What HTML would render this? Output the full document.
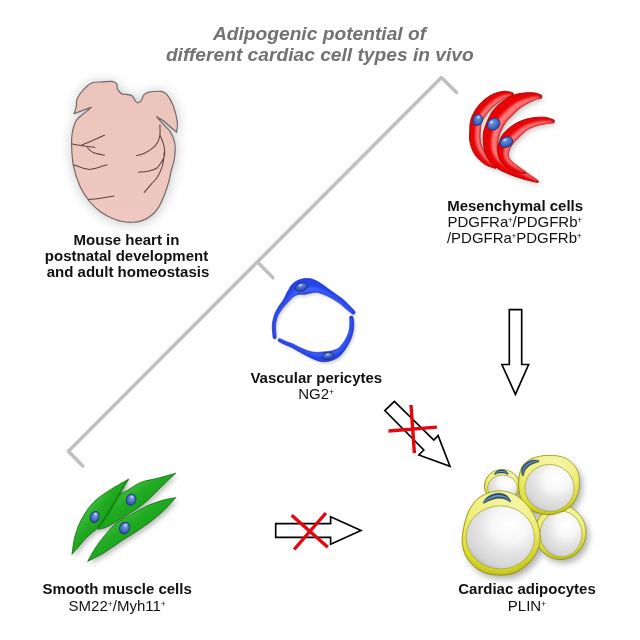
<!DOCTYPE html>
<html><head><meta charset="utf-8"><style>
html,body{margin:0;padding:0;background:#fff;width:640px;height:640px;overflow:hidden}
svg{display:block}
#wrap{width:640px;height:640px;filter:blur(0.35px)}
text{font-family:"Liberation Sans",sans-serif}
.t{font-weight:bold;font-style:italic;font-size:19.2px;fill:#727272}
.b{font-weight:bold;font-size:15px;fill:#111}
.r{font-size:15px;fill:#111}
.s{font-size:8.5px}
</style></head><body>
<div id="wrap"><svg width="640" height="640" viewBox="0 0 640 640">
<defs>
<filter id="sh" x="-30%" y="-30%" width="160%" height="160%"><feGaussianBlur stdDeviation="3"/></filter>
<filter id="hsh" x="-30%" y="-30%" width="160%" height="160%"><feGaussianBlur stdDeviation="6.5"/></filter>
<filter id="hb" x="-30%" y="-30%" width="160%" height="160%"><feGaussianBlur stdDeviation="0.8"/></filter>
<filter id="psh" x="-30%" y="-30%" width="160%" height="160%"><feGaussianBlur stdDeviation="1.6"/></filter>
<filter id="csh" x="-30%" y="-30%" width="160%" height="160%"><feGaussianBlur stdDeviation="2.5"/></filter>
<filter id="ash" x="-30%" y="-30%" width="160%" height="160%"><feGaussianBlur stdDeviation="3"/></filter>
<radialGradient id="nuc" cx="0.5" cy="0.35" r="0.65"><stop offset="0" stop-color="#7098e0"/><stop offset="0.7" stop-color="#3f66c0"/><stop offset="1" stop-color="#2c4a9c"/></radialGradient>
<radialGradient id="nucb" cx="0.5" cy="0.35" r="0.65"><stop offset="0" stop-color="#6e92e0"/><stop offset="0.7" stop-color="#3452c0"/><stop offset="1" stop-color="#24409c"/></radialGradient>
<radialGradient id="nucg" cx="0.5" cy="0.35" r="0.65"><stop offset="0" stop-color="#80a4e4"/><stop offset="0.7" stop-color="#4468bc"/><stop offset="1" stop-color="#2c4a98"/></radialGradient>
<linearGradient id="redg" x1="0" y1="0" x2="1" y2="0"><stop offset="0" stop-color="#e00010"/><stop offset="0.5" stop-color="#f21c24"/><stop offset="1" stop-color="#e8101a"/></linearGradient>
<linearGradient id="blueg" x1="0" y1="0" x2="0" y2="1"><stop offset="0" stop-color="#2848f0"/><stop offset="1" stop-color="#2040e4"/></linearGradient>
<linearGradient id="greeng" x1="0" y1="0" x2="1" y2="1"><stop offset="0.2" stop-color="#52d052"/><stop offset="0.45" stop-color="#22aa22"/><stop offset="0.65" stop-color="#1a9e1a"/><stop offset="0.9" stop-color="#0e820e"/></linearGradient>
<radialGradient id="yelg" cx="0.45" cy="0.38" r="0.68"><stop offset="0.5" stop-color="#f0f07c"/><stop offset="0.74" stop-color="#e6e632"/><stop offset="0.9" stop-color="#c6c61a"/><stop offset="1" stop-color="#8e8e0a"/></radialGradient>
<radialGradient id="grayg" cx="0.64" cy="0.3" r="0.8"><stop offset="0" stop-color="#ffffff"/><stop offset="0.33" stop-color="#f7f7f7"/><stop offset="0.55" stop-color="#e5e5e5"/><stop offset="0.84" stop-color="#d5d5d5"/><stop offset="1" stop-color="#a9a9a9"/></radialGradient>
<linearGradient id="yov" x1="0.9" y1="0.05" x2="0.1" y2="0.95"><stop offset="0" stop-color="#ffffff" stop-opacity="0.45"/><stop offset="0.5" stop-color="#ffffff" stop-opacity="0.05"/><stop offset="1" stop-color="#404000" stop-opacity="0.06"/></linearGradient>
<linearGradient id="hg" x1="0" y1="0" x2="0" y2="1"><stop offset="0" stop-color="#ebc4bb"/><stop offset="1" stop-color="#efc9c1"/></linearGradient>
</defs>
<rect width="640" height="640" fill="#fff"/>

<!-- title -->
<text class="t" x="319.5" y="40.2" text-anchor="middle">Adipogenic potential of</text>
<text class="t" x="319.8" y="61.2" text-anchor="middle">different cardiac cell types in vivo</text>

<!-- bracket -->
<g fill="none" stroke="#bfbfbf" stroke-width="3.5" stroke-linecap="round" stroke-linejoin="round">
<path d="M82.8 466 L68.4 451.2 L441.4 77.6 L456.6 92.6"/>
<path d="M257.6 262.2 L273 277.8"/>
</g>

<!-- HEART -->

<g filter="url(#hsh)" opacity="0.5"><path d="M73.90 113.75 C74.29 112.66 75.70 109.70 76.25 107.20 C76.80 104.70 75.95 101.72 77.20 98.75 C78.45 95.78 81.25 92.06 83.75 89.40 C86.25 86.74 89.08 84.05 92.20 82.80 C95.33 81.55 99.22 82.13 102.50 81.90 C105.78 81.67 109.58 81.15 111.90 81.40 C114.22 81.65 115.52 82.55 116.40 83.40 C117.28 84.25 117.00 85.50 117.20 86.50 C117.40 87.50 116.87 88.20 117.60 89.40 C118.33 90.60 120.20 92.87 121.60 93.70 C123.00 94.53 124.22 94.03 126.00 94.40 C127.78 94.77 130.77 94.87 132.30 95.90 C133.83 96.93 134.32 99.45 135.20 100.60 C136.08 101.75 136.59 102.80 137.60 102.80 C138.61 102.80 140.25 101.85 141.25 100.60 C142.25 99.35 142.47 96.67 143.60 95.30 C144.72 93.93 145.10 93.05 148.00 92.40 C150.90 91.75 157.90 91.10 161.00 91.40 C164.10 91.70 164.60 91.90 166.60 94.20 C168.60 96.50 171.22 100.63 173.00 105.20 C174.78 109.77 176.70 117.08 177.30 121.60 C177.90 126.12 176.72 130.52 176.60 132.30 C175.83 131.63 174.10 130.13 172.00 128.30 C169.90 126.47 166.57 123.25 164.00 121.30 C161.43 119.35 157.83 117.38 156.60 116.60 C157.25 117.37 159.10 119.60 160.50 121.20 C161.90 122.80 163.43 124.50 165.00 126.20 C166.57 127.90 168.42 129.17 169.90 131.40 C171.38 133.63 173.02 136.92 173.90 139.60 C174.78 142.28 175.15 144.10 175.20 147.50 C175.25 150.90 174.85 156.25 174.20 160.00 C173.55 163.75 172.18 166.46 171.30 170.00 C170.42 173.54 170.00 177.27 168.90 181.25 C167.80 185.23 166.35 189.68 164.70 193.90 C163.05 198.12 161.12 203.08 159.00 206.60 C156.88 210.12 154.80 212.67 152.00 215.00 C149.20 217.33 145.48 219.38 142.20 220.60 C138.92 221.82 135.82 222.18 132.30 222.30 C128.78 222.42 125.08 222.28 121.10 221.30 C117.12 220.32 112.00 218.12 108.40 216.40 C104.80 214.68 102.67 213.53 99.50 211.00 C96.33 208.47 92.65 205.38 89.40 201.25 C86.15 197.12 82.67 192.19 80.00 186.25 C77.33 180.31 74.80 172.47 73.40 165.60 C72.00 158.72 71.78 150.52 71.60 145.00 C71.42 139.48 71.68 136.30 72.30 132.50 C72.92 128.70 74.18 124.70 75.30 122.20 C76.42 119.70 77.12 119.30 79.00 117.50 C80.88 115.70 84.56 113.12 86.60 111.40 C88.64 109.68 90.47 107.90 91.25 107.20 C90.00 107.67 86.64 108.91 83.75 110.00 C80.86 111.09 75.54 113.12 73.90 113.75 Z" fill="#80848c" transform="translate(0.5,1)"/></g>
<path d="M73.90 113.75 C74.29 112.66 75.70 109.70 76.25 107.20 C76.80 104.70 75.95 101.72 77.20 98.75 C78.45 95.78 81.25 92.06 83.75 89.40 C86.25 86.74 89.08 84.05 92.20 82.80 C95.33 81.55 99.22 82.13 102.50 81.90 C105.78 81.67 109.58 81.15 111.90 81.40 C114.22 81.65 115.52 82.55 116.40 83.40 C117.28 84.25 117.00 85.50 117.20 86.50 C117.40 87.50 116.87 88.20 117.60 89.40 C118.33 90.60 120.20 92.87 121.60 93.70 C123.00 94.53 124.22 94.03 126.00 94.40 C127.78 94.77 130.77 94.87 132.30 95.90 C133.83 96.93 134.32 99.45 135.20 100.60 C136.08 101.75 136.59 102.80 137.60 102.80 C138.61 102.80 140.25 101.85 141.25 100.60 C142.25 99.35 142.47 96.67 143.60 95.30 C144.72 93.93 145.10 93.05 148.00 92.40 C150.90 91.75 157.90 91.10 161.00 91.40 C164.10 91.70 164.60 91.90 166.60 94.20 C168.60 96.50 171.22 100.63 173.00 105.20 C174.78 109.77 176.70 117.08 177.30 121.60 C177.90 126.12 176.72 130.52 176.60 132.30 C175.83 131.63 174.10 130.13 172.00 128.30 C169.90 126.47 166.57 123.25 164.00 121.30 C161.43 119.35 157.83 117.38 156.60 116.60 C157.25 117.37 159.10 119.60 160.50 121.20 C161.90 122.80 163.43 124.50 165.00 126.20 C166.57 127.90 168.42 129.17 169.90 131.40 C171.38 133.63 173.02 136.92 173.90 139.60 C174.78 142.28 175.15 144.10 175.20 147.50 C175.25 150.90 174.85 156.25 174.20 160.00 C173.55 163.75 172.18 166.46 171.30 170.00 C170.42 173.54 170.00 177.27 168.90 181.25 C167.80 185.23 166.35 189.68 164.70 193.90 C163.05 198.12 161.12 203.08 159.00 206.60 C156.88 210.12 154.80 212.67 152.00 215.00 C149.20 217.33 145.48 219.38 142.20 220.60 C138.92 221.82 135.82 222.18 132.30 222.30 C128.78 222.42 125.08 222.28 121.10 221.30 C117.12 220.32 112.00 218.12 108.40 216.40 C104.80 214.68 102.67 213.53 99.50 211.00 C96.33 208.47 92.65 205.38 89.40 201.25 C86.15 197.12 82.67 192.19 80.00 186.25 C77.33 180.31 74.80 172.47 73.40 165.60 C72.00 158.72 71.78 150.52 71.60 145.00 C71.42 139.48 71.68 136.30 72.30 132.50 C72.92 128.70 74.18 124.70 75.30 122.20 C76.42 119.70 77.12 119.30 79.00 117.50 C80.88 115.70 84.56 113.12 86.60 111.40 C88.64 109.68 90.47 107.90 91.25 107.20 C90.00 107.67 86.64 108.91 83.75 110.00 C80.86 111.09 75.54 113.12 73.90 113.75 Z" fill="url(#hg)" stroke="#746664" stroke-width="1.15" stroke-linejoin="round"/>
<path d="M72.50 144.00 C74.38 144.33 80.00 145.46 83.75 146.00 C87.50 146.54 93.12 147.04 95.00 147.25 M81.90 145.00 C83.77 144.22 89.35 141.93 93.10 140.30 C96.85 138.68 102.52 136.09 104.40 135.25 M87.50 147.80 C88.43 148.58 90.28 151.25 93.10 152.50 C95.92 153.75 102.52 154.83 104.40 155.30 M73.40 164.70 C76.07 165.48 83.77 169.40 89.40 169.40 C95.03 169.40 104.23 165.48 107.20 164.70 M88.40 199.40 C90.12 199.23 94.48 198.97 98.75 198.40 C103.02 197.83 111.46 196.40 114.00 196.00 M159.90 125.00 C159.90 126.67 160.30 132.08 159.90 135.00 C159.50 137.92 158.72 140.30 157.50 142.50 C156.28 144.70 154.77 146.42 152.60 148.20 C150.43 149.98 147.17 151.97 144.50 153.20 C141.83 154.43 137.92 155.20 136.60 155.60 M159.90 135.00 C160.57 136.77 163.12 142.28 163.90 145.60 C164.68 148.92 165.00 152.17 164.60 154.90 C164.20 157.63 162.83 159.78 161.50 162.00 C160.17 164.22 158.85 166.67 156.60 168.20 C154.35 169.73 151.00 170.53 148.00 171.20 C145.00 171.87 140.17 172.03 138.60 172.20 M164.30 152.00 C164.12 153.75 163.82 159.35 163.20 162.50 C162.58 165.65 161.72 168.28 160.60 170.90 C159.48 173.52 158.05 176.00 156.50 178.20 C154.95 180.40 153.33 181.75 151.30 184.10 C149.27 186.45 145.47 190.93 144.30 192.30" fill="none" stroke="#5a4240" stroke-width="1.05" stroke-linecap="round"/>



<g filter="url(#csh)" opacity="0.38" transform="translate(2,2.5)"><path d="M511.23 92.30 L510.92 92.24 L510.54 92.15 L510.06 92.04 L509.50 91.91 L508.86 91.78 L508.17 91.64 L507.42 91.52 L506.62 91.42 L505.79 91.34 L504.91 91.31 L504.00 91.33 L503.10 91.42 L502.24 91.54 L501.39 91.67 L500.53 91.83 L499.64 92.02 L498.74 92.24 L497.84 92.48 L496.92 92.75 L496.01 93.05 L495.09 93.38 L494.18 93.73 L493.28 94.12 L492.39 94.53 L491.51 94.98 L490.64 95.45 L489.76 95.96 L488.90 96.49 L488.04 97.04 L487.20 97.61 L486.37 98.20 L485.55 98.82 L484.75 99.44 L483.97 100.08 L483.21 100.73 L482.47 101.39 L481.76 102.07 L481.06 102.78 L480.37 103.49 L479.71 104.23 L479.07 104.97 L478.45 105.73 L477.85 106.49 L477.27 107.27 L476.71 108.05 L476.17 108.83 L475.65 109.62 L475.15 110.41 L474.68 111.19 L474.22 111.98 L473.78 112.79 L473.36 113.60 L472.95 114.42 L472.57 115.26 L472.20 116.10 L471.86 116.96 L471.54 117.82 L471.24 118.70 L470.96 119.59 L470.71 120.51 L470.48 121.46 L470.30 122.41 L470.15 123.35 L470.05 124.26 L469.97 125.15 L469.91 126.02 L469.87 126.87 L469.84 127.69 L469.82 128.48 L469.80 129.25 L469.78 129.99 L469.76 130.71 L469.72 131.45 L469.68 132.20 L469.64 132.97 L469.60 133.76 L469.56 134.57 L469.53 135.39 L469.52 136.24 L469.52 137.10 L469.54 137.98 L469.60 138.88 L469.68 139.79 L469.80 140.71 L469.94 141.60 L470.11 142.48 L470.30 143.37 L470.51 144.25 L470.75 145.13 L471.00 146.00 L471.27 146.87 L471.56 147.72 L471.87 148.57 L472.20 149.40 L472.55 150.21 L472.92 151.01 L473.32 151.79 L473.73 152.56 L474.16 153.29 L474.61 154.00 L475.06 154.68 L475.53 155.34 L476.01 155.97 L476.50 156.58 L476.99 157.17 L477.49 157.74 L477.99 158.29 L478.51 158.84 L479.04 159.39 L479.60 159.94 L480.17 160.49 L480.76 161.02 L481.35 161.54 L481.96 162.04 L482.58 162.53 L483.20 163.00 L483.84 163.46 L484.49 163.90 L485.14 164.32 L485.82 164.74 L486.55 165.15 L487.33 165.53 L488.13 165.89 L488.94 166.22 L489.75 166.53 L490.54 166.81 L491.30 167.07 L492.01 167.31 L492.66 167.52 L493.23 167.70 L493.70 167.85 L494.07 167.99 A1.75 1.75 0 0 0 495.93 165.01 L495.93 165.01 L495.62 164.72 L495.23 164.35 L494.78 163.94 L494.29 163.47 L493.76 162.97 L493.21 162.44 L492.65 161.89 L492.09 161.33 L491.55 160.78 L491.05 160.24 L490.59 159.74 L490.18 159.26 L489.78 158.79 L489.36 158.29 L488.95 157.80 L488.54 157.29 L488.13 156.78 L487.73 156.27 L487.33 155.76 L486.95 155.24 L486.57 154.72 L486.20 154.21 L485.84 153.69 L485.49 153.16 L485.14 152.63 L484.79 152.09 L484.45 151.57 L484.13 151.05 L483.82 150.54 L483.53 150.04 L483.25 149.54 L482.99 149.04 L482.74 148.53 L482.50 148.03 L482.29 147.52 L482.08 146.99 L481.88 146.43 L481.67 145.83 L481.48 145.21 L481.29 144.57 L481.11 143.92 L480.94 143.25 L480.78 142.57 L480.63 141.90 L480.50 141.23 L480.39 140.56 L480.28 139.91 L480.20 139.29 L480.14 138.71 L480.09 138.12 L480.06 137.52 L480.04 136.90 L480.03 136.26 L480.03 135.61 L480.04 134.93 L480.07 134.24 L480.10 133.53 L480.14 132.80 L480.19 132.05 L480.24 131.29 L480.29 130.51 L480.35 129.74 L480.40 129.00 L480.45 128.28 L480.52 127.58 L480.59 126.91 L480.67 126.27 L480.77 125.66 L480.88 125.08 L481.00 124.53 L481.14 124.01 L481.29 123.49 L481.48 122.95 L481.69 122.39 L481.93 121.83 L482.18 121.26 L482.45 120.69 L482.75 120.12 L483.06 119.54 L483.38 118.96 L483.73 118.37 L484.09 117.78 L484.46 117.19 L484.85 116.59 L485.25 116.00 L485.66 115.41 L486.09 114.82 L486.54 114.23 L487.01 113.64 L487.48 113.05 L487.97 112.46 L488.47 111.88 L488.98 111.30 L489.49 110.73 L490.01 110.16 L490.53 109.61 L491.06 109.04 L491.62 108.47 L492.19 107.90 L492.78 107.33 L493.38 106.75 L493.99 106.19 L494.60 105.63 L495.21 105.08 L495.82 104.55 L496.43 104.04 L497.02 103.54 L497.61 103.07 L498.19 102.60 L498.80 102.14 L499.42 101.68 L500.04 101.22 L500.68 100.78 L501.31 100.34 L501.95 99.92 L502.57 99.53 L503.19 99.15 L503.79 98.79 L504.37 98.47 L504.90 98.18 L505.38 97.93 L505.89 97.70 L506.44 97.49 L507.03 97.29 L507.64 97.12 L508.26 96.96 L508.86 96.81 L509.45 96.69 L510.00 96.58 L510.51 96.48 L510.99 96.39 L511.37 96.30 A2.00 2.00 0 0 0 511.23 92.30 Z" fill="#777"/><path d="M539.93 94.60 L539.73 94.52 L539.50 94.41 L539.20 94.27 L538.84 94.12 L538.41 93.94 L537.94 93.77 L537.42 93.59 L536.84 93.41 L536.22 93.25 L535.55 93.11 L534.84 93.00 L534.11 92.92 L533.40 92.86 L532.68 92.80 L531.92 92.76 L531.12 92.72 L530.30 92.70 L529.44 92.70 L528.56 92.70 L527.65 92.73 L526.72 92.78 L525.78 92.84 L524.82 92.93 L523.88 93.05 L522.94 93.16 L521.98 93.29 L520.98 93.44 L519.96 93.60 L518.91 93.79 L517.84 94.00 L516.76 94.24 L515.67 94.51 L514.58 94.81 L513.49 95.15 L512.41 95.53 L511.33 95.96 L510.29 96.43 L509.28 96.93 L508.31 97.45 L507.38 97.98 L506.49 98.53 L505.63 99.09 L504.81 99.66 L504.02 100.23 L503.26 100.79 L502.53 101.35 L501.83 101.90 L501.14 102.46 L500.44 103.04 L499.72 103.66 L499.00 104.30 L498.28 104.97 L497.56 105.66 L496.85 106.38 L496.14 107.12 L495.44 107.88 L494.74 108.66 L494.06 109.47 L493.39 110.30 L492.73 111.16 L492.10 112.04 L491.51 112.92 L490.96 113.80 L490.45 114.67 L489.97 115.53 L489.52 116.38 L489.11 117.21 L488.72 118.03 L488.35 118.82 L488.00 119.59 L487.66 120.34 L487.34 121.08 L487.01 121.83 L486.68 122.59 L486.35 123.37 L486.02 124.15 L485.70 124.96 L485.38 125.78 L485.08 126.61 L484.79 127.47 L484.52 128.34 L484.27 129.24 L484.04 130.15 L483.84 131.07 L483.67 131.99 L483.52 132.89 L483.41 133.80 L483.31 134.72 L483.24 135.63 L483.19 136.54 L483.15 137.45 L483.14 138.36 L483.14 139.27 L483.16 140.17 L483.20 141.07 L483.25 141.95 L483.31 142.80 L483.39 143.66 L483.48 144.53 L483.59 145.42 L483.71 146.32 L483.85 147.23 L484.02 148.15 L484.21 149.08 L484.43 150.01 L484.67 150.95 L484.95 151.89 L485.26 152.82 L485.59 153.72 L485.94 154.59 L486.31 155.46 L486.71 156.31 L487.13 157.15 L487.57 157.98 L488.03 158.80 L488.52 159.60 L489.03 160.38 L489.56 161.14 L490.12 161.88 L490.70 162.60 L491.32 163.31 L491.96 163.98 L492.61 164.62 L493.28 165.24 L493.96 165.82 L494.65 166.37 L495.35 166.90 L496.06 167.41 L496.78 167.90 L497.50 168.37 L498.23 168.83 L498.97 169.29 L499.75 169.75 L500.55 170.20 L501.35 170.63 L502.17 171.05 L502.99 171.45 L503.82 171.84 L504.66 172.22 L505.52 172.60 L506.38 172.96 L507.26 173.33 L508.15 173.70 L509.08 174.07 L510.05 174.46 L511.04 174.85 L512.04 175.23 L513.04 175.61 L514.06 175.98 L515.08 176.35 L516.11 176.72 L517.16 177.07 L518.22 177.42 L519.30 177.77 L520.39 178.11 L521.51 178.44 L522.73 178.79 L524.07 179.16 L525.51 179.54 L527.01 179.92 L528.53 180.31 L530.04 180.68 L531.51 181.05 L532.91 181.39 L534.20 181.70 L535.35 181.98 L536.32 182.22 L537.09 182.41 A1.00 1.00 0 0 0 537.91 180.59 L537.91 180.59 L537.26 180.14 L536.44 179.57 L535.47 178.89 L534.38 178.13 L533.20 177.31 L531.96 176.44 L530.67 175.55 L529.36 174.67 L528.07 173.81 L526.81 172.99 L525.61 172.23 L524.49 171.56 L523.41 170.95 L522.34 170.39 L521.29 169.86 L520.25 169.37 L519.23 168.90 L518.23 168.46 L517.27 168.03 L516.33 167.61 L515.42 167.20 L514.55 166.78 L513.72 166.37 L512.92 165.93 L512.12 165.48 L511.34 165.03 L510.58 164.58 L509.86 164.14 L509.16 163.71 L508.49 163.28 L507.85 162.86 L507.24 162.43 L506.65 162.01 L506.09 161.58 L505.55 161.15 L505.03 160.71 L504.50 160.25 L503.99 159.79 L503.50 159.34 L503.05 158.89 L502.62 158.44 L502.22 158.00 L501.85 157.57 L501.50 157.14 L501.17 156.70 L500.86 156.27 L500.57 155.84 L500.30 155.40 L500.02 154.93 L499.75 154.45 L499.48 153.95 L499.23 153.44 L498.98 152.92 L498.75 152.39 L498.53 151.86 L498.33 151.32 L498.15 150.78 L497.99 150.23 L497.85 149.70 L497.74 149.18 L497.66 148.68 L497.60 148.17 L497.55 147.63 L497.52 147.07 L497.51 146.49 L497.51 145.90 L497.52 145.28 L497.55 144.65 L497.58 144.01 L497.63 143.36 L497.69 142.70 L497.75 142.05 L497.82 141.43 L497.91 140.82 L498.01 140.21 L498.13 139.60 L498.25 138.99 L498.39 138.38 L498.53 137.79 L498.69 137.19 L498.85 136.61 L499.02 136.04 L499.19 135.47 L499.36 134.93 L499.54 134.41 L499.72 133.89 L499.91 133.37 L500.12 132.84 L500.34 132.29 L500.57 131.74 L500.81 131.17 L501.07 130.59 L501.35 129.99 L501.63 129.38 L501.94 128.76 L502.26 128.12 L502.60 127.46 L502.94 126.81 L503.27 126.18 L503.60 125.57 L503.93 124.98 L504.26 124.41 L504.59 123.86 L504.92 123.33 L505.26 122.83 L505.59 122.35 L505.93 121.89 L506.27 121.44 L506.64 120.98 L507.05 120.51 L507.50 120.02 L507.98 119.52 L508.48 119.00 L509.01 118.47 L509.56 117.94 L510.13 117.39 L510.70 116.84 L511.28 116.28 L511.87 115.72 L512.46 115.14 L513.06 114.55 L513.64 113.96 L514.20 113.39 L514.74 112.84 L515.26 112.31 L515.77 111.79 L516.26 111.30 L516.75 110.82 L517.22 110.35 L517.70 109.90 L518.18 109.47 L518.67 109.04 L519.19 108.61 L519.78 108.16 L520.41 107.69 L521.10 107.21 L521.81 106.73 L522.56 106.25 L523.32 105.77 L524.10 105.30 L524.87 104.84 L525.64 104.39 L526.40 103.96 L527.12 103.55 L527.80 103.17 L528.48 102.81 L529.16 102.45 L529.85 102.11 L530.53 101.77 L531.21 101.45 L531.88 101.15 L532.54 100.86 L533.17 100.59 L533.78 100.33 L534.36 100.09 L534.89 99.88 L535.34 99.69 L535.76 99.52 L536.20 99.36 L536.63 99.22 L537.06 99.10 L537.48 99.00 L537.89 98.90 L538.29 98.82 L538.67 98.76 L539.03 98.70 L539.38 98.65 L539.67 98.60 A2.00 2.00 0 0 0 539.93 94.60 Z" fill="#777"/><path d="M552.79 119.56 L552.46 119.45 L552.06 119.30 L551.58 119.12 L551.02 118.91 L550.40 118.69 L549.72 118.46 L549.00 118.22 L548.24 118.00 L547.45 117.79 L546.62 117.61 L545.77 117.46 L544.93 117.35 L544.10 117.28 L543.27 117.23 L542.41 117.19 L541.53 117.18 L540.63 117.18 L539.72 117.20 L538.79 117.24 L537.85 117.29 L536.91 117.36 L535.97 117.44 L535.03 117.54 L534.10 117.65 L533.19 117.76 L532.29 117.89 L531.37 118.04 L530.44 118.20 L529.50 118.38 L528.55 118.57 L527.59 118.79 L526.63 119.03 L525.65 119.30 L524.68 119.60 L523.69 119.92 L522.72 120.27 L521.75 120.65 L520.80 121.03 L519.85 121.44 L518.92 121.87 L517.99 122.31 L517.08 122.78 L516.17 123.26 L515.28 123.76 L514.40 124.29 L513.54 124.84 L512.69 125.40 L511.87 125.98 L511.06 126.58 L510.23 127.20 L509.40 127.86 L508.55 128.55 L507.70 129.28 L506.85 130.05 L506.01 130.85 L505.18 131.69 L504.37 132.56 L503.59 133.49 L502.85 134.45 L502.15 135.46 L501.52 136.48 L500.96 137.51 L500.46 138.56 L500.01 139.61 L499.61 140.67 L499.26 141.72 L498.95 142.77 L498.68 143.82 L498.45 144.85 L498.25 145.87 L498.09 146.87 L497.96 147.86 L497.87 148.86 L497.82 149.87 L497.81 150.85 L497.84 151.83 L497.92 152.79 L498.04 153.73 L498.19 154.66 L498.38 155.57 L498.61 156.46 L498.87 157.32 L499.16 158.17 L499.50 159.01 L499.89 159.86 L500.32 160.68 L500.80 161.46 L501.30 162.19 L501.82 162.87 L502.36 163.51 L502.91 164.12 L503.47 164.69 L504.03 165.23 L504.60 165.74 L505.17 166.23 L505.75 166.71 L506.38 167.20 L507.03 167.69 L507.69 168.15 L508.35 168.59 L509.03 169.00 L509.70 169.39 L510.39 169.77 L511.08 170.12 L511.78 170.45 L512.49 170.77 L513.21 171.07 L513.95 171.36 L514.78 171.65 L515.69 171.93 L516.63 172.19 L517.61 172.43 L518.59 172.65 L519.55 172.86 L520.49 173.05 L521.38 173.23 L522.19 173.38 L522.91 173.52 L523.52 173.64 L523.99 173.74 A1.25 1.25 0 0 0 525.01 171.46 L525.01 171.46 L524.60 171.17 L524.08 170.80 L523.48 170.37 L522.81 169.89 L522.08 169.37 L521.32 168.83 L520.54 168.26 L519.76 167.70 L519.01 167.14 L518.29 166.60 L517.64 166.10 L517.05 165.64 L516.47 165.20 L515.89 164.77 L515.32 164.36 L514.77 163.95 L514.24 163.56 L513.73 163.18 L513.25 162.80 L512.79 162.43 L512.37 162.05 L511.97 161.68 L511.60 161.30 L511.25 160.89 L510.88 160.45 L510.52 160.00 L510.17 159.55 L509.86 159.11 L509.57 158.68 L509.32 158.26 L509.10 157.85 L508.91 157.46 L508.76 157.08 L508.64 156.71 L508.56 156.35 L508.50 155.99 L508.46 155.58 L508.42 155.13 L508.41 154.66 L508.41 154.18 L508.44 153.69 L508.49 153.19 L508.56 152.69 L508.65 152.18 L508.77 151.67 L508.90 151.16 L509.06 150.65 L509.24 150.14 L509.45 149.59 L509.69 149.00 L509.97 148.40 L510.28 147.79 L510.61 147.17 L510.96 146.55 L511.32 145.94 L511.70 145.34 L512.09 144.75 L512.48 144.19 L512.87 143.65 L513.25 143.14 L513.64 142.65 L514.07 142.13 L514.55 141.58 L515.08 141.00 L515.64 140.40 L516.24 139.79 L516.86 139.17 L517.50 138.53 L518.16 137.90 L518.82 137.27 L519.48 136.63 L520.13 136.02 L520.75 135.42 L521.36 134.83 L521.95 134.26 L522.54 133.69 L523.13 133.13 L523.71 132.59 L524.29 132.06 L524.88 131.55 L525.47 131.06 L526.07 130.59 L526.67 130.14 L527.28 129.73 L527.90 129.34 L528.54 128.97 L529.21 128.61 L529.89 128.27 L530.60 127.94 L531.33 127.63 L532.07 127.32 L532.82 127.03 L533.58 126.75 L534.35 126.48 L535.13 126.21 L535.90 125.95 L536.66 125.71 L537.42 125.49 L538.20 125.27 L538.99 125.08 L539.79 124.89 L540.58 124.71 L541.38 124.55 L542.16 124.39 L542.92 124.25 L543.67 124.11 L544.40 123.97 L545.07 123.85 L545.71 123.73 L546.37 123.62 L547.05 123.53 L547.74 123.44 L548.44 123.36 L549.13 123.29 L549.79 123.24 L550.42 123.18 L551.01 123.14 L551.54 123.10 L552.02 123.07 L552.41 123.04 A1.75 1.75 0 0 0 552.79 119.56 Z" fill="#777"/></g>
<path d="M511.23 92.30 L510.92 92.24 L510.54 92.15 L510.06 92.04 L509.50 91.91 L508.86 91.78 L508.17 91.64 L507.42 91.52 L506.62 91.42 L505.79 91.34 L504.91 91.31 L504.00 91.33 L503.10 91.42 L502.24 91.54 L501.39 91.67 L500.53 91.83 L499.64 92.02 L498.74 92.24 L497.84 92.48 L496.92 92.75 L496.01 93.05 L495.09 93.38 L494.18 93.73 L493.28 94.12 L492.39 94.53 L491.51 94.98 L490.64 95.45 L489.76 95.96 L488.90 96.49 L488.04 97.04 L487.20 97.61 L486.37 98.20 L485.55 98.82 L484.75 99.44 L483.97 100.08 L483.21 100.73 L482.47 101.39 L481.76 102.07 L481.06 102.78 L480.37 103.49 L479.71 104.23 L479.07 104.97 L478.45 105.73 L477.85 106.49 L477.27 107.27 L476.71 108.05 L476.17 108.83 L475.65 109.62 L475.15 110.41 L474.68 111.19 L474.22 111.98 L473.78 112.79 L473.36 113.60 L472.95 114.42 L472.57 115.26 L472.20 116.10 L471.86 116.96 L471.54 117.82 L471.24 118.70 L470.96 119.59 L470.71 120.51 L470.48 121.46 L470.30 122.41 L470.15 123.35 L470.05 124.26 L469.97 125.15 L469.91 126.02 L469.87 126.87 L469.84 127.69 L469.82 128.48 L469.80 129.25 L469.78 129.99 L469.76 130.71 L469.72 131.45 L469.68 132.20 L469.64 132.97 L469.60 133.76 L469.56 134.57 L469.53 135.39 L469.52 136.24 L469.52 137.10 L469.54 137.98 L469.60 138.88 L469.68 139.79 L469.80 140.71 L469.94 141.60 L470.11 142.48 L470.30 143.37 L470.51 144.25 L470.75 145.13 L471.00 146.00 L471.27 146.87 L471.56 147.72 L471.87 148.57 L472.20 149.40 L472.55 150.21 L472.92 151.01 L473.32 151.79 L473.73 152.56 L474.16 153.29 L474.61 154.00 L475.06 154.68 L475.53 155.34 L476.01 155.97 L476.50 156.58 L476.99 157.17 L477.49 157.74 L477.99 158.29 L478.51 158.84 L479.04 159.39 L479.60 159.94 L480.17 160.49 L480.76 161.02 L481.35 161.54 L481.96 162.04 L482.58 162.53 L483.20 163.00 L483.84 163.46 L484.49 163.90 L485.14 164.32 L485.82 164.74 L486.55 165.15 L487.33 165.53 L488.13 165.89 L488.94 166.22 L489.75 166.53 L490.54 166.81 L491.30 167.07 L492.01 167.31 L492.66 167.52 L493.23 167.70 L493.70 167.85 L494.07 167.99 A1.75 1.75 0 0 0 495.93 165.01 L495.93 165.01 L495.62 164.72 L495.23 164.35 L494.78 163.94 L494.29 163.47 L493.76 162.97 L493.21 162.44 L492.65 161.89 L492.09 161.33 L491.55 160.78 L491.05 160.24 L490.59 159.74 L490.18 159.26 L489.78 158.79 L489.36 158.29 L488.95 157.80 L488.54 157.29 L488.13 156.78 L487.73 156.27 L487.33 155.76 L486.95 155.24 L486.57 154.72 L486.20 154.21 L485.84 153.69 L485.49 153.16 L485.14 152.63 L484.79 152.09 L484.45 151.57 L484.13 151.05 L483.82 150.54 L483.53 150.04 L483.25 149.54 L482.99 149.04 L482.74 148.53 L482.50 148.03 L482.29 147.52 L482.08 146.99 L481.88 146.43 L481.67 145.83 L481.48 145.21 L481.29 144.57 L481.11 143.92 L480.94 143.25 L480.78 142.57 L480.63 141.90 L480.50 141.23 L480.39 140.56 L480.28 139.91 L480.20 139.29 L480.14 138.71 L480.09 138.12 L480.06 137.52 L480.04 136.90 L480.03 136.26 L480.03 135.61 L480.04 134.93 L480.07 134.24 L480.10 133.53 L480.14 132.80 L480.19 132.05 L480.24 131.29 L480.29 130.51 L480.35 129.74 L480.40 129.00 L480.45 128.28 L480.52 127.58 L480.59 126.91 L480.67 126.27 L480.77 125.66 L480.88 125.08 L481.00 124.53 L481.14 124.01 L481.29 123.49 L481.48 122.95 L481.69 122.39 L481.93 121.83 L482.18 121.26 L482.45 120.69 L482.75 120.12 L483.06 119.54 L483.38 118.96 L483.73 118.37 L484.09 117.78 L484.46 117.19 L484.85 116.59 L485.25 116.00 L485.66 115.41 L486.09 114.82 L486.54 114.23 L487.01 113.64 L487.48 113.05 L487.97 112.46 L488.47 111.88 L488.98 111.30 L489.49 110.73 L490.01 110.16 L490.53 109.61 L491.06 109.04 L491.62 108.47 L492.19 107.90 L492.78 107.33 L493.38 106.75 L493.99 106.19 L494.60 105.63 L495.21 105.08 L495.82 104.55 L496.43 104.04 L497.02 103.54 L497.61 103.07 L498.19 102.60 L498.80 102.14 L499.42 101.68 L500.04 101.22 L500.68 100.78 L501.31 100.34 L501.95 99.92 L502.57 99.53 L503.19 99.15 L503.79 98.79 L504.37 98.47 L504.90 98.18 L505.38 97.93 L505.89 97.70 L506.44 97.49 L507.03 97.29 L507.64 97.12 L508.26 96.96 L508.86 96.81 L509.45 96.69 L510.00 96.58 L510.51 96.48 L510.99 96.39 L511.37 96.30 A2.00 2.00 0 0 0 511.23 92.30 Z" fill="#ea0306" stroke="#9c0000" stroke-width="1"/>
<path d="M511.31 94.54 L510.96 94.56 L510.52 94.57 L510.02 94.58 L509.47 94.59 L508.86 94.60 L508.22 94.62 L507.55 94.65 L506.85 94.71 L506.16 94.79 L505.46 94.89 L504.77 95.03 L504.11 95.21 L503.44 95.42 L502.74 95.66 L502.02 95.93 L501.28 96.22 L500.54 96.54 L499.78 96.88 L499.03 97.25 L498.27 97.63 L497.51 98.03 L496.77 98.44 L496.03 98.87 L495.31 99.31 L494.60 99.77 L493.88 100.26 L493.16 100.77 L492.43 101.30 L491.71 101.85 L491.00 102.41 L490.30 102.99 L489.60 103.58 L488.92 104.18 L488.25 104.78 L487.61 105.39 L486.98 105.99 L486.38 106.60 L485.78 107.23 L485.19 107.87 L484.62 108.51 L484.06 109.17 L483.51 109.83 L482.98 110.49 L482.46 111.17 L481.97 111.84 L481.48 112.52 L481.02 113.19 L480.58 113.87 L480.16 114.55 L479.75 115.23 L479.35 115.91 L478.97 116.60 L478.61 117.29 L478.27 117.98 L477.94 118.67 L477.64 119.37 L477.35 120.07 L477.09 120.77 L476.85 121.47 L476.64 122.18 L476.45 122.89 L476.29 123.60 L476.16 124.32 L476.05 125.05 L475.96 125.78 L475.89 126.52 L475.83 127.27 L475.78 128.02 L475.74 128.77 L475.71 129.52 L475.67 130.28 L475.63 131.03 L475.59 131.79 L475.54 132.54 L475.50 133.28 L475.46 134.03 L475.43 134.77 L475.41 135.51 L475.40 136.25 L475.41 136.99 L475.43 137.72 L475.47 138.45 L475.54 139.18 L475.62 139.91 L475.73 140.66 L475.87 141.41 L476.01 142.17 L476.18 142.93 L476.37 143.70 L476.57 144.46 L476.78 145.21 L477.01 145.96 L477.25 146.69 L477.51 147.40 L477.77 148.09 L478.05 148.76 L478.34 149.40 L478.64 150.02 L478.96 150.63 L479.30 151.22 L479.65 151.80 L480.01 152.37 L480.39 152.93 L480.77 153.48 L481.17 154.03 L481.58 154.58 L482.00 155.12 L482.42 155.66 L482.85 156.20 L483.30 156.73 L483.75 157.26 L484.22 157.78 L484.70 158.30 L485.19 158.81 L485.69 159.31 L486.19 159.81 L486.70 160.29 L487.22 160.76 L487.74 161.22 L488.26 161.67 L488.81 162.12 L489.41 162.57 L490.05 163.03 L490.71 163.48 L491.37 163.93 L492.04 164.36 L492.68 164.77 L493.28 165.16 L493.85 165.51 L494.35 165.83 L494.77 166.10 L495.11 166.32 L495.85 165.13 L495.54 164.85 L495.15 164.49 L494.69 164.08 L494.20 163.62 L493.66 163.13 L493.10 162.61 L492.53 162.07 L491.97 161.53 L491.42 160.99 L490.90 160.46 L490.43 159.95 L490.01 159.48 L489.59 159.01 L489.17 158.52 L488.74 158.02 L488.32 157.52 L487.91 157.01 L487.50 156.50 L487.09 155.99 L486.70 155.47 L486.31 154.96 L485.94 154.44 L485.57 153.92 L485.21 153.39 L484.85 152.85 L484.50 152.32 L484.16 151.79 L483.83 151.27 L483.51 150.76 L483.21 150.25 L482.92 149.74 L482.65 149.23 L482.39 148.73 L482.15 148.21 L481.93 147.69 L481.71 147.15 L481.50 146.58 L481.29 145.98 L481.09 145.35 L480.90 144.70 L480.71 144.03 L480.54 143.36 L480.38 142.68 L480.23 141.99 L480.09 141.31 L479.97 140.64 L479.87 139.98 L479.79 139.35 L479.72 138.75 L479.67 138.15 L479.64 137.54 L479.62 136.91 L479.61 136.26 L479.61 135.60 L479.62 134.92 L479.65 134.22 L479.68 133.51 L479.72 132.78 L479.77 132.03 L479.82 131.26 L479.87 130.49 L479.92 129.72 L479.97 128.98 L480.03 128.25 L480.09 127.55 L480.16 126.88 L480.25 126.23 L480.34 125.61 L480.45 125.01 L480.57 124.44 L480.71 123.90 L480.87 123.37 L481.06 122.82 L481.27 122.25 L481.51 121.67 L481.77 121.09 L482.04 120.51 L482.34 119.92 L482.65 119.34 L482.98 118.74 L483.33 118.15 L483.69 117.55 L484.07 116.95 L484.46 116.34 L484.86 115.75 L485.28 115.15 L485.72 114.55 L486.17 113.95 L486.64 113.35 L487.12 112.75 L487.62 112.16 L488.12 111.57 L488.63 110.99 L489.15 110.41 L489.68 109.84 L490.20 109.28 L490.75 108.71 L491.31 108.14 L491.90 107.56 L492.49 106.99 L493.10 106.41 L493.72 105.85 L494.34 105.29 L494.96 104.74 L495.58 104.21 L496.20 103.69 L496.80 103.20 L497.40 102.72 L498.00 102.26 L498.61 101.80 L499.24 101.35 L499.88 100.89 L500.53 100.45 L501.17 100.03 L501.82 99.62 L502.46 99.23 L503.08 98.86 L503.70 98.51 L504.29 98.19 L504.83 97.91 L505.32 97.67 L505.85 97.45 L506.42 97.24 L507.02 97.06 L507.64 96.89 L508.25 96.74 L508.86 96.61 L509.45 96.50 L510.00 96.40 L510.51 96.30 L510.99 96.22 L511.37 96.14 Z" fill="#ff8c8c" opacity="0.85" filter="url(#hb)"/>
<g transform="translate(477.7,119.9) rotate(18)"><ellipse rx="4.6" ry="5.7" fill="url(#nuc)" stroke="#22357a" stroke-width="0.9"/><ellipse cx="-0.23" cy="-2.85" rx="1.38" ry="1.14" fill="#d8e6ff" opacity="0.8"/></g>
<path d="M539.93 94.60 L539.73 94.52 L539.50 94.41 L539.20 94.27 L538.84 94.12 L538.41 93.94 L537.94 93.77 L537.42 93.59 L536.84 93.41 L536.22 93.25 L535.55 93.11 L534.84 93.00 L534.11 92.92 L533.40 92.86 L532.68 92.80 L531.92 92.76 L531.12 92.72 L530.30 92.70 L529.44 92.70 L528.56 92.70 L527.65 92.73 L526.72 92.78 L525.78 92.84 L524.82 92.93 L523.88 93.05 L522.94 93.16 L521.98 93.29 L520.98 93.44 L519.96 93.60 L518.91 93.79 L517.84 94.00 L516.76 94.24 L515.67 94.51 L514.58 94.81 L513.49 95.15 L512.41 95.53 L511.33 95.96 L510.29 96.43 L509.28 96.93 L508.31 97.45 L507.38 97.98 L506.49 98.53 L505.63 99.09 L504.81 99.66 L504.02 100.23 L503.26 100.79 L502.53 101.35 L501.83 101.90 L501.14 102.46 L500.44 103.04 L499.72 103.66 L499.00 104.30 L498.28 104.97 L497.56 105.66 L496.85 106.38 L496.14 107.12 L495.44 107.88 L494.74 108.66 L494.06 109.47 L493.39 110.30 L492.73 111.16 L492.10 112.04 L491.51 112.92 L490.96 113.80 L490.45 114.67 L489.97 115.53 L489.52 116.38 L489.11 117.21 L488.72 118.03 L488.35 118.82 L488.00 119.59 L487.66 120.34 L487.34 121.08 L487.01 121.83 L486.68 122.59 L486.35 123.37 L486.02 124.15 L485.70 124.96 L485.38 125.78 L485.08 126.61 L484.79 127.47 L484.52 128.34 L484.27 129.24 L484.04 130.15 L483.84 131.07 L483.67 131.99 L483.52 132.89 L483.41 133.80 L483.31 134.72 L483.24 135.63 L483.19 136.54 L483.15 137.45 L483.14 138.36 L483.14 139.27 L483.16 140.17 L483.20 141.07 L483.25 141.95 L483.31 142.80 L483.39 143.66 L483.48 144.53 L483.59 145.42 L483.71 146.32 L483.85 147.23 L484.02 148.15 L484.21 149.08 L484.43 150.01 L484.67 150.95 L484.95 151.89 L485.26 152.82 L485.59 153.72 L485.94 154.59 L486.31 155.46 L486.71 156.31 L487.13 157.15 L487.57 157.98 L488.03 158.80 L488.52 159.60 L489.03 160.38 L489.56 161.14 L490.12 161.88 L490.70 162.60 L491.32 163.31 L491.96 163.98 L492.61 164.62 L493.28 165.24 L493.96 165.82 L494.65 166.37 L495.35 166.90 L496.06 167.41 L496.78 167.90 L497.50 168.37 L498.23 168.83 L498.97 169.29 L499.75 169.75 L500.55 170.20 L501.35 170.63 L502.17 171.05 L502.99 171.45 L503.82 171.84 L504.66 172.22 L505.52 172.60 L506.38 172.96 L507.26 173.33 L508.15 173.70 L509.08 174.07 L510.05 174.46 L511.04 174.85 L512.04 175.23 L513.04 175.61 L514.06 175.98 L515.08 176.35 L516.11 176.72 L517.16 177.07 L518.22 177.42 L519.30 177.77 L520.39 178.11 L521.51 178.44 L522.73 178.79 L524.07 179.16 L525.51 179.54 L527.01 179.92 L528.53 180.31 L530.04 180.68 L531.51 181.05 L532.91 181.39 L534.20 181.70 L535.35 181.98 L536.32 182.22 L537.09 182.41 A1.00 1.00 0 0 0 537.91 180.59 L537.91 180.59 L537.26 180.14 L536.44 179.57 L535.47 178.89 L534.38 178.13 L533.20 177.31 L531.96 176.44 L530.67 175.55 L529.36 174.67 L528.07 173.81 L526.81 172.99 L525.61 172.23 L524.49 171.56 L523.41 170.95 L522.34 170.39 L521.29 169.86 L520.25 169.37 L519.23 168.90 L518.23 168.46 L517.27 168.03 L516.33 167.61 L515.42 167.20 L514.55 166.78 L513.72 166.37 L512.92 165.93 L512.12 165.48 L511.34 165.03 L510.58 164.58 L509.86 164.14 L509.16 163.71 L508.49 163.28 L507.85 162.86 L507.24 162.43 L506.65 162.01 L506.09 161.58 L505.55 161.15 L505.03 160.71 L504.50 160.25 L503.99 159.79 L503.50 159.34 L503.05 158.89 L502.62 158.44 L502.22 158.00 L501.85 157.57 L501.50 157.14 L501.17 156.70 L500.86 156.27 L500.57 155.84 L500.30 155.40 L500.02 154.93 L499.75 154.45 L499.48 153.95 L499.23 153.44 L498.98 152.92 L498.75 152.39 L498.53 151.86 L498.33 151.32 L498.15 150.78 L497.99 150.23 L497.85 149.70 L497.74 149.18 L497.66 148.68 L497.60 148.17 L497.55 147.63 L497.52 147.07 L497.51 146.49 L497.51 145.90 L497.52 145.28 L497.55 144.65 L497.58 144.01 L497.63 143.36 L497.69 142.70 L497.75 142.05 L497.82 141.43 L497.91 140.82 L498.01 140.21 L498.13 139.60 L498.25 138.99 L498.39 138.38 L498.53 137.79 L498.69 137.19 L498.85 136.61 L499.02 136.04 L499.19 135.47 L499.36 134.93 L499.54 134.41 L499.72 133.89 L499.91 133.37 L500.12 132.84 L500.34 132.29 L500.57 131.74 L500.81 131.17 L501.07 130.59 L501.35 129.99 L501.63 129.38 L501.94 128.76 L502.26 128.12 L502.60 127.46 L502.94 126.81 L503.27 126.18 L503.60 125.57 L503.93 124.98 L504.26 124.41 L504.59 123.86 L504.92 123.33 L505.26 122.83 L505.59 122.35 L505.93 121.89 L506.27 121.44 L506.64 120.98 L507.05 120.51 L507.50 120.02 L507.98 119.52 L508.48 119.00 L509.01 118.47 L509.56 117.94 L510.13 117.39 L510.70 116.84 L511.28 116.28 L511.87 115.72 L512.46 115.14 L513.06 114.55 L513.64 113.96 L514.20 113.39 L514.74 112.84 L515.26 112.31 L515.77 111.79 L516.26 111.30 L516.75 110.82 L517.22 110.35 L517.70 109.90 L518.18 109.47 L518.67 109.04 L519.19 108.61 L519.78 108.16 L520.41 107.69 L521.10 107.21 L521.81 106.73 L522.56 106.25 L523.32 105.77 L524.10 105.30 L524.87 104.84 L525.64 104.39 L526.40 103.96 L527.12 103.55 L527.80 103.17 L528.48 102.81 L529.16 102.45 L529.85 102.11 L530.53 101.77 L531.21 101.45 L531.88 101.15 L532.54 100.86 L533.17 100.59 L533.78 100.33 L534.36 100.09 L534.89 99.88 L535.34 99.69 L535.76 99.52 L536.20 99.36 L536.63 99.22 L537.06 99.10 L537.48 99.00 L537.89 98.90 L538.29 98.82 L538.67 98.76 L539.03 98.70 L539.38 98.65 L539.67 98.60 A2.00 2.00 0 0 0 539.93 94.60 Z" fill="#ea0306" stroke="#9c0000" stroke-width="1"/>
<path d="M539.78 96.84 L539.53 96.83 L539.24 96.81 L538.90 96.78 L538.53 96.75 L538.12 96.72 L537.69 96.70 L537.22 96.68 L536.72 96.67 L536.21 96.67 L535.67 96.70 L535.12 96.75 L534.55 96.82 L533.94 96.91 L533.30 97.02 L532.62 97.14 L531.91 97.28 L531.18 97.43 L530.43 97.60 L529.66 97.78 L528.88 97.98 L528.09 98.19 L527.29 98.42 L526.49 98.67 L525.69 98.93 L524.88 99.21 L524.03 99.51 L523.16 99.82 L522.27 100.15 L521.38 100.50 L520.48 100.86 L519.59 101.23 L518.71 101.62 L517.85 102.02 L517.01 102.43 L516.21 102.85 L515.44 103.28 L514.71 103.73 L514.00 104.19 L513.30 104.67 L512.62 105.17 L511.96 105.68 L511.31 106.21 L510.66 106.74 L510.02 107.29 L509.39 107.85 L508.75 108.41 L508.12 108.98 L507.48 109.56 L506.84 110.14 L506.19 110.73 L505.55 111.32 L504.91 111.93 L504.28 112.54 L503.66 113.15 L503.05 113.77 L502.46 114.39 L501.89 115.02 L501.34 115.65 L500.81 116.28 L500.31 116.92 L499.84 117.55 L499.39 118.20 L498.96 118.86 L498.55 119.52 L498.16 120.20 L497.78 120.88 L497.41 121.56 L497.05 122.25 L496.70 122.94 L496.36 123.63 L496.03 124.33 L495.70 125.02 L495.37 125.71 L495.05 126.39 L494.75 127.08 L494.45 127.76 L494.16 128.44 L493.89 129.11 L493.62 129.79 L493.38 130.47 L493.14 131.16 L492.92 131.84 L492.72 132.53 L492.53 133.23 L492.36 133.94 L492.20 134.65 L492.05 135.38 L491.92 136.10 L491.80 136.84 L491.70 137.57 L491.61 138.31 L491.53 139.05 L491.47 139.79 L491.42 140.53 L491.39 141.27 L491.37 142.01 L491.36 142.75 L491.36 143.49 L491.38 144.24 L491.40 144.99 L491.44 145.74 L491.50 146.48 L491.57 147.22 L491.67 147.95 L491.78 148.68 L491.91 149.39 L492.07 150.09 L492.25 150.78 L492.46 151.47 L492.69 152.15 L492.94 152.84 L493.22 153.52 L493.51 154.19 L493.83 154.85 L494.16 155.51 L494.51 156.15 L494.88 156.78 L495.27 157.39 L495.66 157.99 L496.08 158.57 L496.50 159.13 L496.94 159.66 L497.40 160.19 L497.88 160.70 L498.38 161.20 L498.89 161.69 L499.42 162.16 L499.97 162.64 L500.54 163.10 L501.13 163.57 L501.74 164.03 L502.36 164.49 L503.00 164.94 L503.65 165.37 L504.32 165.80 L505.01 166.22 L505.71 166.64 L506.44 167.05 L507.18 167.46 L507.95 167.86 L508.73 168.27 L509.54 168.68 L510.37 169.09 L511.23 169.51 L512.11 169.93 L513.01 170.33 L513.93 170.73 L514.88 171.13 L515.85 171.53 L516.85 171.93 L517.86 172.34 L518.89 172.76 L519.94 173.19 L521.00 173.64 L522.08 174.10 L523.18 174.59 L524.34 175.12 L525.60 175.70 L526.94 176.33 L528.33 176.98 L529.73 177.65 L531.11 178.31 L532.46 178.95 L533.74 179.56 L534.91 180.13 L535.96 180.63 L536.85 181.06 L537.55 181.39 L537.88 180.66 L537.22 180.23 L536.39 179.67 L535.42 179.01 L534.33 178.26 L533.14 177.46 L531.88 176.61 L530.58 175.74 L529.27 174.88 L527.97 174.03 L526.70 173.23 L525.49 172.49 L524.37 171.83 L523.29 171.24 L522.22 170.69 L521.16 170.17 L520.12 169.68 L519.10 169.22 L518.11 168.78 L517.14 168.35 L516.20 167.93 L515.29 167.52 L514.41 167.11 L513.58 166.69 L512.77 166.26 L511.96 165.81 L511.17 165.36 L510.41 164.92 L509.68 164.48 L508.98 164.05 L508.30 163.63 L507.66 163.20 L507.04 162.78 L506.44 162.35 L505.87 161.93 L505.32 161.50 L504.78 161.05 L504.25 160.60 L503.73 160.13 L503.23 159.68 L502.77 159.23 L502.33 158.78 L501.92 158.34 L501.53 157.90 L501.17 157.46 L500.83 157.02 L500.51 156.58 L500.20 156.14 L499.91 155.68 L499.63 155.21 L499.34 154.72 L499.06 154.21 L498.80 153.69 L498.54 153.16 L498.30 152.62 L498.07 152.07 L497.86 151.52 L497.67 150.96 L497.50 150.41 L497.36 149.86 L497.24 149.32 L497.15 148.81 L497.08 148.28 L497.03 147.73 L496.99 147.15 L496.97 146.56 L496.96 145.95 L496.97 145.32 L496.99 144.68 L497.02 144.03 L497.06 143.37 L497.11 142.71 L497.17 142.05 L497.24 141.42 L497.32 140.79 L497.42 140.17 L497.53 139.55 L497.65 138.93 L497.78 138.31 L497.92 137.70 L498.07 137.10 L498.23 136.50 L498.40 135.91 L498.57 135.33 L498.74 134.77 L498.92 134.24 L499.10 133.71 L499.30 133.17 L499.51 132.62 L499.73 132.06 L499.96 131.50 L500.21 130.92 L500.47 130.33 L500.75 129.73 L501.04 129.11 L501.34 128.48 L501.66 127.84 L502.00 127.18 L502.34 126.52 L502.67 125.88 L503.01 125.26 L503.34 124.67 L503.67 124.09 L504.01 123.53 L504.34 122.99 L504.68 122.47 L505.03 121.97 L505.37 121.49 L505.73 121.03 L506.11 120.56 L506.53 120.07 L506.99 119.57 L507.48 119.05 L507.99 118.52 L508.53 117.99 L509.08 117.45 L509.65 116.90 L510.23 116.34 L510.82 115.78 L511.41 115.21 L512.01 114.63 L512.61 114.04 L513.20 113.46 L513.76 112.89 L514.31 112.34 L514.84 111.80 L515.36 111.29 L515.87 110.79 L516.37 110.30 L516.87 109.84 L517.36 109.38 L517.87 108.95 L518.38 108.52 L518.92 108.09 L519.53 107.64 L520.18 107.17 L520.88 106.70 L521.61 106.23 L522.37 105.76 L523.15 105.29 L523.93 104.83 L524.72 104.38 L525.50 103.95 L526.26 103.53 L526.99 103.13 L527.68 102.76 L528.37 102.41 L529.06 102.06 L529.76 101.73 L530.45 101.41 L531.14 101.10 L531.82 100.81 L532.48 100.54 L533.12 100.28 L533.74 100.03 L534.33 99.81 L534.86 99.60 L535.32 99.42 L535.76 99.26 L536.20 99.12 L536.64 98.99 L537.08 98.88 L537.50 98.79 L537.92 98.71 L538.31 98.64 L538.69 98.58 L539.05 98.53 L539.39 98.48 L539.68 98.44 Z" fill="#ff8c8c" opacity="0.85" filter="url(#hb)"/>
<g transform="translate(493.6,124.1) rotate(-40)"><ellipse rx="6.6" ry="5.6" fill="url(#nuc)" stroke="#22357a" stroke-width="0.9"/><ellipse cx="-0.33" cy="-2.80" rx="1.98" ry="1.12" fill="#d8e6ff" opacity="0.8"/></g>
<path d="M552.79 119.56 L552.46 119.45 L552.06 119.30 L551.58 119.12 L551.02 118.91 L550.40 118.69 L549.72 118.46 L549.00 118.22 L548.24 118.00 L547.45 117.79 L546.62 117.61 L545.77 117.46 L544.93 117.35 L544.10 117.28 L543.27 117.23 L542.41 117.19 L541.53 117.18 L540.63 117.18 L539.72 117.20 L538.79 117.24 L537.85 117.29 L536.91 117.36 L535.97 117.44 L535.03 117.54 L534.10 117.65 L533.19 117.76 L532.29 117.89 L531.37 118.04 L530.44 118.20 L529.50 118.38 L528.55 118.57 L527.59 118.79 L526.63 119.03 L525.65 119.30 L524.68 119.60 L523.69 119.92 L522.72 120.27 L521.75 120.65 L520.80 121.03 L519.85 121.44 L518.92 121.87 L517.99 122.31 L517.08 122.78 L516.17 123.26 L515.28 123.76 L514.40 124.29 L513.54 124.84 L512.69 125.40 L511.87 125.98 L511.06 126.58 L510.23 127.20 L509.40 127.86 L508.55 128.55 L507.70 129.28 L506.85 130.05 L506.01 130.85 L505.18 131.69 L504.37 132.56 L503.59 133.49 L502.85 134.45 L502.15 135.46 L501.52 136.48 L500.96 137.51 L500.46 138.56 L500.01 139.61 L499.61 140.67 L499.26 141.72 L498.95 142.77 L498.68 143.82 L498.45 144.85 L498.25 145.87 L498.09 146.87 L497.96 147.86 L497.87 148.86 L497.82 149.87 L497.81 150.85 L497.84 151.83 L497.92 152.79 L498.04 153.73 L498.19 154.66 L498.38 155.57 L498.61 156.46 L498.87 157.32 L499.16 158.17 L499.50 159.01 L499.89 159.86 L500.32 160.68 L500.80 161.46 L501.30 162.19 L501.82 162.87 L502.36 163.51 L502.91 164.12 L503.47 164.69 L504.03 165.23 L504.60 165.74 L505.17 166.23 L505.75 166.71 L506.38 167.20 L507.03 167.69 L507.69 168.15 L508.35 168.59 L509.03 169.00 L509.70 169.39 L510.39 169.77 L511.08 170.12 L511.78 170.45 L512.49 170.77 L513.21 171.07 L513.95 171.36 L514.78 171.65 L515.69 171.93 L516.63 172.19 L517.61 172.43 L518.59 172.65 L519.55 172.86 L520.49 173.05 L521.38 173.23 L522.19 173.38 L522.91 173.52 L523.52 173.64 L523.99 173.74 A1.25 1.25 0 0 0 525.01 171.46 L525.01 171.46 L524.60 171.17 L524.08 170.80 L523.48 170.37 L522.81 169.89 L522.08 169.37 L521.32 168.83 L520.54 168.26 L519.76 167.70 L519.01 167.14 L518.29 166.60 L517.64 166.10 L517.05 165.64 L516.47 165.20 L515.89 164.77 L515.32 164.36 L514.77 163.95 L514.24 163.56 L513.73 163.18 L513.25 162.80 L512.79 162.43 L512.37 162.05 L511.97 161.68 L511.60 161.30 L511.25 160.89 L510.88 160.45 L510.52 160.00 L510.17 159.55 L509.86 159.11 L509.57 158.68 L509.32 158.26 L509.10 157.85 L508.91 157.46 L508.76 157.08 L508.64 156.71 L508.56 156.35 L508.50 155.99 L508.46 155.58 L508.42 155.13 L508.41 154.66 L508.41 154.18 L508.44 153.69 L508.49 153.19 L508.56 152.69 L508.65 152.18 L508.77 151.67 L508.90 151.16 L509.06 150.65 L509.24 150.14 L509.45 149.59 L509.69 149.00 L509.97 148.40 L510.28 147.79 L510.61 147.17 L510.96 146.55 L511.32 145.94 L511.70 145.34 L512.09 144.75 L512.48 144.19 L512.87 143.65 L513.25 143.14 L513.64 142.65 L514.07 142.13 L514.55 141.58 L515.08 141.00 L515.64 140.40 L516.24 139.79 L516.86 139.17 L517.50 138.53 L518.16 137.90 L518.82 137.27 L519.48 136.63 L520.13 136.02 L520.75 135.42 L521.36 134.83 L521.95 134.26 L522.54 133.69 L523.13 133.13 L523.71 132.59 L524.29 132.06 L524.88 131.55 L525.47 131.06 L526.07 130.59 L526.67 130.14 L527.28 129.73 L527.90 129.34 L528.54 128.97 L529.21 128.61 L529.89 128.27 L530.60 127.94 L531.33 127.63 L532.07 127.32 L532.82 127.03 L533.58 126.75 L534.35 126.48 L535.13 126.21 L535.90 125.95 L536.66 125.71 L537.42 125.49 L538.20 125.27 L538.99 125.08 L539.79 124.89 L540.58 124.71 L541.38 124.55 L542.16 124.39 L542.92 124.25 L543.67 124.11 L544.40 123.97 L545.07 123.85 L545.71 123.73 L546.37 123.62 L547.05 123.53 L547.74 123.44 L548.44 123.36 L549.13 123.29 L549.79 123.24 L550.42 123.18 L551.01 123.14 L551.54 123.10 L552.02 123.07 L552.41 123.04 A1.75 1.75 0 0 0 552.79 119.56 Z" fill="#ea0306" stroke="#9c0000" stroke-width="1"/>
<path d="M552.58 121.51 L552.21 121.48 L551.77 121.43 L551.26 121.37 L550.68 121.30 L550.06 121.23 L549.39 121.17 L548.69 121.10 L547.96 121.04 L547.22 121.00 L546.48 120.98 L545.74 120.97 L545.01 120.99 L544.27 121.03 L543.50 121.08 L542.70 121.14 L541.88 121.22 L541.05 121.31 L540.20 121.41 L539.35 121.52 L538.49 121.65 L537.63 121.79 L536.78 121.95 L535.94 122.11 L535.11 122.30 L534.28 122.49 L533.45 122.70 L532.61 122.92 L531.77 123.14 L530.94 123.39 L530.10 123.64 L529.28 123.92 L528.46 124.21 L527.64 124.51 L526.84 124.84 L526.05 125.19 L525.27 125.57 L524.51 125.96 L523.75 126.38 L523.00 126.83 L522.26 127.29 L521.52 127.77 L520.79 128.27 L520.07 128.79 L519.35 129.32 L518.63 129.87 L517.92 130.43 L517.21 131.01 L516.50 131.60 L515.78 132.21 L515.04 132.84 L514.30 133.48 L513.56 134.14 L512.83 134.82 L512.11 135.50 L511.40 136.20 L510.72 136.90 L510.07 137.61 L509.46 138.33 L508.89 139.04 L508.37 139.76 L507.88 140.49 L507.41 141.25 L506.97 142.03 L506.56 142.82 L506.17 143.62 L505.81 144.43 L505.48 145.24 L505.17 146.04 L504.90 146.84 L504.66 147.62 L504.45 148.39 L504.28 149.14 L504.13 149.86 L504.02 150.59 L503.94 151.31 L503.90 152.02 L503.88 152.73 L503.89 153.43 L503.93 154.12 L504.00 154.79 L504.09 155.45 L504.22 156.09 L504.37 156.72 L504.54 157.32 L504.74 157.90 L504.98 158.46 L505.26 159.00 L505.56 159.54 L505.89 160.06 L506.26 160.57 L506.64 161.07 L507.05 161.57 L507.47 162.05 L507.91 162.52 L508.37 162.99 L508.83 163.45 L509.30 163.90 L509.79 164.32 L510.31 164.74 L510.84 165.14 L511.39 165.53 L511.96 165.91 L512.55 166.29 L513.15 166.67 L513.76 167.04 L514.39 167.41 L515.03 167.78 L515.69 168.16 L516.38 168.54 L517.14 168.95 L517.96 169.36 L518.81 169.78 L519.68 170.19 L520.54 170.60 L521.38 170.99 L522.18 171.36 L522.91 171.70 L523.57 172.00 L524.12 172.26 L524.56 172.46 L524.97 171.55 L524.56 171.27 L524.04 170.91 L523.43 170.49 L522.75 170.02 L522.02 169.52 L521.25 168.99 L520.46 168.44 L519.68 167.89 L518.91 167.34 L518.19 166.81 L517.52 166.32 L516.92 165.87 L516.34 165.44 L515.75 165.01 L515.18 164.60 L514.62 164.20 L514.09 163.81 L513.57 163.43 L513.08 163.05 L512.62 162.67 L512.18 162.30 L511.77 161.92 L511.39 161.53 L511.03 161.12 L510.65 160.68 L510.28 160.23 L509.93 159.78 L509.60 159.34 L509.31 158.90 L509.04 158.47 L508.81 158.06 L508.61 157.65 L508.44 157.25 L508.31 156.87 L508.21 156.49 L508.14 156.11 L508.08 155.68 L508.04 155.21 L508.01 154.73 L508.01 154.24 L508.03 153.73 L508.07 153.21 L508.13 152.69 L508.22 152.16 L508.33 151.63 L508.46 151.11 L508.61 150.58 L508.79 150.05 L508.99 149.48 L509.24 148.88 L509.51 148.26 L509.81 147.63 L510.14 147.00 L510.49 146.36 L510.85 145.73 L511.23 145.11 L511.62 144.51 L512.02 143.92 L512.42 143.36 L512.81 142.83 L513.21 142.32 L513.65 141.79 L514.15 141.22 L514.68 140.63 L515.26 140.02 L515.86 139.40 L516.49 138.77 L517.14 138.14 L517.81 137.50 L518.48 136.86 L519.15 136.23 L519.80 135.62 L520.43 135.02 L521.04 134.43 L521.65 133.86 L522.25 133.29 L522.85 132.74 L523.45 132.19 L524.04 131.67 L524.64 131.16 L525.25 130.67 L525.86 130.21 L526.48 129.76 L527.10 129.35 L527.73 128.96 L528.39 128.59 L529.06 128.24 L529.76 127.90 L530.48 127.58 L531.21 127.26 L531.96 126.97 L532.72 126.68 L533.49 126.40 L534.27 126.13 L535.06 125.87 L535.83 125.62 L536.59 125.38 L537.36 125.16 L538.15 124.96 L538.95 124.76 L539.75 124.58 L540.55 124.41 L541.35 124.25 L542.13 124.10 L542.90 123.96 L543.66 123.83 L544.39 123.71 L545.07 123.59 L545.71 123.48 L546.38 123.38 L547.06 123.30 L547.76 123.22 L548.46 123.16 L549.15 123.10 L549.81 123.05 L550.44 123.01 L551.03 122.98 L551.56 122.95 L552.04 122.93 L552.42 122.90 Z" fill="#ff8c8c" opacity="0.85" filter="url(#hb)"/>
<g transform="translate(506.3,142) rotate(-25)"><ellipse rx="6.6" ry="5" fill="url(#nuc)" stroke="#22357a" stroke-width="0.9"/><ellipse cx="-0.33" cy="-2.50" rx="1.98" ry="1.00" fill="#d8e6ff" opacity="0.8"/></g>


<g filter="url(#psh)" opacity="0.35" transform="translate(1.5,2)"><path d="M276.10 337.09 L276.06 336.52 L276.00 335.80 L275.92 334.96 L275.84 334.04 L275.75 333.03 L275.66 331.98 L275.58 330.90 L275.52 329.81 L275.47 328.74 L275.45 327.71 L275.46 326.76 L275.50 325.89 L275.57 325.06 L275.65 324.23 L275.76 323.41 L275.89 322.60 L276.03 321.81 L276.19 321.02 L276.37 320.25 L276.56 319.49 L276.77 318.74 L277.00 318.00 L277.24 317.28 L277.50 316.57 L277.77 315.90 L278.06 315.24 L278.38 314.60 L278.71 313.96 L279.06 313.34 L279.42 312.73 L279.80 312.11 L280.20 311.51 L280.60 310.90 L281.02 310.30 L281.45 309.70 L281.87 309.10 L282.29 308.53 L282.72 307.98 L283.16 307.43 L283.62 306.88 L284.09 306.34 L284.57 305.79 L285.07 305.24 L285.58 304.68 L286.10 304.12 L286.63 303.56 L287.16 302.98 L287.71 302.39 L288.25 301.79 L288.79 301.18 L289.33 300.57 L289.86 299.97 L290.39 299.38 L290.91 298.81 L291.44 298.27 L291.95 297.76 L292.47 297.29 L292.98 296.87 L293.47 296.50 L293.98 296.17 L294.51 295.85 L295.08 295.55 L295.64 295.28 L296.21 295.04 L296.76 294.84 L297.31 294.67 L297.83 294.54 L298.34 294.43 L298.82 294.35 L299.27 294.29 L299.69 294.25 L300.06 294.23 L300.39 294.24 L300.72 294.26 L301.06 294.28 L301.43 294.30 L301.83 294.31 L302.25 294.32 L302.70 294.32 L303.18 294.31 L303.68 294.29 L304.22 294.26 L304.78 294.20 L305.34 294.13 L305.85 294.06 L306.33 293.97 L306.79 293.88 L307.24 293.79 L307.68 293.69 L308.11 293.59 L308.52 293.48 L308.93 293.37 L309.33 293.27 L309.72 293.17 L310.11 293.07 L310.52 292.98 L310.96 292.89 L311.40 292.80 L311.85 292.69 L312.29 292.59 L312.74 292.48 L313.20 292.39 L313.67 292.30 L314.15 292.23 L314.66 292.18 L315.18 292.16 L315.72 292.16 L316.27 292.19 L316.82 292.25 L317.40 292.34 L318.02 292.46 L318.66 292.61 L319.33 292.79 L320.02 293.00 L320.72 293.22 L321.43 293.47 L322.15 293.73 L322.87 294.00 L323.59 294.28 L324.31 294.56 L325.00 294.85 L325.70 295.14 L326.39 295.45 L327.08 295.77 L327.77 296.10 L328.46 296.44 L329.15 296.78 L329.83 297.14 L330.51 297.50 L331.18 297.87 L331.85 298.24 L332.51 298.61 L333.17 298.99 L333.83 299.38 L334.49 299.78 L335.14 300.18 L335.78 300.59 L336.41 301.00 L337.03 301.41 L337.64 301.82 L338.24 302.23 L338.83 302.64 L339.39 303.05 L339.94 303.46 L340.47 303.86 L340.98 304.27 L341.49 304.68 L341.98 305.11 L342.47 305.54 L342.96 305.97 L343.45 306.41 L343.94 306.86 L344.44 307.31 L344.94 307.76 L345.46 308.21 L345.98 308.66 L346.51 309.10 L347.07 309.57 L347.66 310.04 L348.25 310.53 L348.84 311.01 L349.42 311.48 L349.98 311.93 L350.51 312.35 L350.99 312.74 L351.42 313.09 L351.79 313.39 L352.09 313.63 A1.80 1.80 0 0 0 354.51 310.97 L354.51 310.97 L354.25 310.70 L353.92 310.36 L353.53 309.96 L353.10 309.51 L352.63 309.03 L352.13 308.51 L351.61 307.97 L351.08 307.43 L350.54 306.88 L350.02 306.35 L349.51 305.83 L349.02 305.34 L348.57 304.88 L348.12 304.42 L347.66 303.95 L347.20 303.48 L346.73 303.00 L346.25 302.51 L345.76 302.02 L345.26 301.53 L344.73 301.03 L344.19 300.54 L343.63 300.04 L343.06 299.54 L342.46 299.06 L341.86 298.58 L341.24 298.11 L340.62 297.64 L339.98 297.18 L339.34 296.72 L338.69 296.26 L338.05 295.80 L337.40 295.35 L336.76 294.90 L336.12 294.44 L335.49 293.99 L334.85 293.53 L334.21 293.07 L333.56 292.61 L332.91 292.14 L332.26 291.68 L331.60 291.21 L330.95 290.75 L330.29 290.29 L329.64 289.82 L328.98 289.36 L328.33 288.89 L327.69 288.44 L327.07 287.98 L326.44 287.52 L325.81 287.04 L325.16 286.56 L324.51 286.08 L323.86 285.59 L323.19 285.10 L322.52 284.62 L321.84 284.15 L321.15 283.69 L320.44 283.24 L319.73 282.81 L319.05 282.40 L318.37 282.01 L317.70 281.62 L317.03 281.25 L316.36 280.89 L315.68 280.55 L314.99 280.23 L314.30 279.93 L313.61 279.66 L312.91 279.41 L312.20 279.20 L311.48 279.02 L310.72 278.86 L309.94 278.73 L309.17 278.63 L308.40 278.55 L307.64 278.50 L306.89 278.48 L306.15 278.48 L305.43 278.51 L304.71 278.56 L304.00 278.64 L303.31 278.74 L302.66 278.87 L302.05 279.01 L301.43 279.17 L300.77 279.36 L300.08 279.58 L299.37 279.83 L298.63 280.12 L297.86 280.45 L297.09 280.81 L296.30 281.23 L295.50 281.69 L294.70 282.21 L293.94 282.77 L293.23 283.36 L292.60 283.97 L292.01 284.62 L291.46 285.28 L290.96 285.96 L290.48 286.65 L290.04 287.35 L289.62 288.05 L289.21 288.74 L288.82 289.44 L288.43 290.13 L288.02 290.83 L287.60 291.57 L287.18 292.33 L286.79 293.09 L286.42 293.84 L286.07 294.59 L285.72 295.33 L285.39 296.05 L285.05 296.77 L284.72 297.46 L284.38 298.14 L284.04 298.78 L283.69 299.41 L283.33 300.02 L282.94 300.62 L282.52 301.23 L282.09 301.83 L281.65 302.43 L281.20 303.04 L280.75 303.65 L280.29 304.27 L279.83 304.91 L279.38 305.56 L278.94 306.22 L278.53 306.90 L278.14 307.56 L277.75 308.22 L277.37 308.89 L276.99 309.56 L276.61 310.24 L276.24 310.94 L275.88 311.65 L275.53 312.37 L275.19 313.11 L274.88 313.86 L274.58 314.64 L274.30 315.43 L274.04 316.22 L273.80 317.02 L273.58 317.84 L273.36 318.66 L273.17 319.50 L272.98 320.35 L272.82 321.22 L272.68 322.09 L272.55 322.98 L272.45 323.88 L272.36 324.78 L272.30 325.71 L272.27 326.70 L272.29 327.77 L272.33 328.87 L272.40 330.00 L272.49 331.13 L272.59 332.24 L272.69 333.32 L272.80 334.33 L272.90 335.26 L272.99 336.09 L273.06 336.77 L273.10 337.31 A1.50 1.50 0 0 0 276.10 337.09 Z" fill="#777"/><path d="M278.95 341.55 L279.23 341.69 L279.57 341.86 L279.97 342.07 L280.43 342.30 L280.92 342.55 L281.45 342.82 L282.01 343.10 L282.58 343.38 L283.16 343.66 L283.74 343.94 L284.31 344.21 L284.87 344.47 L285.42 344.71 L285.98 344.95 L286.54 345.17 L287.09 345.40 L287.65 345.61 L288.21 345.83 L288.77 346.05 L289.32 346.28 L289.88 346.51 L290.44 346.75 L291.00 347.01 L291.56 347.28 L292.13 347.58 L292.71 347.89 L293.31 348.22 L293.92 348.57 L294.54 348.94 L295.17 349.31 L295.82 349.69 L296.46 350.07 L297.12 350.46 L297.78 350.84 L298.44 351.22 L299.10 351.59 L299.76 351.95 L300.42 352.31 L301.09 352.67 L301.76 353.03 L302.43 353.40 L303.11 353.76 L303.78 354.12 L304.46 354.47 L305.12 354.82 L305.78 355.16 L306.43 355.50 L307.07 355.82 L307.68 356.13 L308.28 356.44 L308.88 356.74 L309.46 357.04 L310.05 357.33 L310.63 357.62 L311.21 357.90 L311.80 358.18 L312.39 358.45 L312.98 358.71 L313.59 358.96 L314.19 359.21 L314.80 359.45 L315.40 359.69 L316.02 359.93 L316.63 360.17 L317.26 360.40 L317.89 360.62 L318.53 360.83 L319.18 361.02 L319.83 361.19 L320.50 361.34 L321.18 361.46 L321.86 361.55 L322.53 361.61 L323.20 361.64 L323.87 361.66 L324.54 361.65 L325.22 361.62 L325.90 361.57 L326.58 361.50 L327.26 361.41 L327.95 361.30 L328.63 361.16 L329.31 361.01 L329.99 360.85 L330.67 360.66 L331.35 360.45 L332.02 360.21 L332.70 359.96 L333.38 359.69 L334.05 359.40 L334.71 359.10 L335.36 358.78 L336.00 358.44 L336.63 358.09 L337.24 357.73 L337.83 357.36 L338.38 356.97 L338.91 356.58 L339.41 356.18 L339.89 355.76 L340.34 355.33 L340.78 354.89 L341.20 354.44 L341.61 353.98 L342.00 353.52 L342.39 353.05 L342.77 352.57 L343.16 352.08 L343.57 351.56 L343.97 351.02 L344.37 350.47 L344.76 349.91 L345.15 349.34 L345.52 348.77 L345.89 348.19 L346.25 347.62 L346.61 347.04 L346.95 346.47 L347.28 345.91 L347.61 345.35 L347.92 344.79 L348.24 344.24 L348.55 343.68 L348.86 343.12 L349.16 342.55 L349.46 341.98 L349.75 341.40 L350.03 340.81 L350.31 340.21 L350.58 339.61 L350.83 338.99 L351.08 338.37 L351.31 337.74 L351.53 337.10 L351.75 336.46 L351.96 335.81 L352.16 335.15 L352.36 334.48 L352.54 333.80 L352.71 333.12 L352.87 332.44 L353.02 331.75 L353.15 331.05 L353.27 330.35 L353.37 329.63 L353.46 328.89 L353.53 328.14 L353.59 327.39 L353.64 326.64 L353.67 325.90 L353.69 325.17 L353.71 324.47 L353.72 323.79 L353.72 323.15 L353.71 322.55 L353.70 321.99 L353.68 321.43 L353.64 320.89 L353.58 320.38 L353.51 319.90 L353.43 319.45 L353.35 319.03 L353.27 318.65 L353.20 318.31 L353.13 318.00 L353.06 317.75 L353.02 317.55 L352.98 317.37 A1.70 1.70 0 0 0 349.62 317.83 L349.62 317.83 L349.64 318.06 L349.67 318.33 L349.70 318.61 L349.74 318.91 L349.77 319.23 L349.81 319.57 L349.84 319.93 L349.87 320.31 L349.89 320.71 L349.90 321.12 L349.91 321.55 L349.90 322.01 L349.89 322.53 L349.87 323.11 L349.86 323.73 L349.84 324.37 L349.81 325.03 L349.78 325.71 L349.74 326.40 L349.68 327.08 L349.62 327.76 L349.54 328.42 L349.44 329.05 L349.33 329.65 L349.20 330.24 L349.05 330.84 L348.89 331.43 L348.71 332.03 L348.52 332.62 L348.32 333.21 L348.11 333.80 L347.88 334.38 L347.65 334.95 L347.41 335.52 L347.17 336.09 L346.92 336.63 L346.67 337.17 L346.42 337.69 L346.16 338.20 L345.89 338.71 L345.61 339.21 L345.32 339.71 L345.02 340.21 L344.71 340.70 L344.40 341.19 L344.07 341.68 L343.74 342.16 L343.39 342.65 L343.04 343.14 L342.68 343.64 L342.31 344.13 L341.93 344.62 L341.55 345.10 L341.17 345.57 L340.78 346.02 L340.39 346.45 L340.00 346.86 L339.61 347.25 L339.22 347.60 L338.84 347.92 L338.44 348.22 L338.05 348.50 L337.66 348.76 L337.28 348.98 L336.91 349.18 L336.53 349.36 L336.16 349.53 L335.78 349.68 L335.40 349.82 L335.00 349.96 L334.59 350.10 L334.17 350.24 L333.73 350.38 L333.27 350.51 L332.78 350.64 L332.27 350.76 L331.74 350.88 L331.20 351.00 L330.66 351.10 L330.11 351.21 L329.57 351.30 L329.03 351.39 L328.51 351.48 L328.01 351.55 L327.52 351.62 L327.04 351.68 L326.55 351.73 L326.07 351.78 L325.59 351.82 L325.10 351.85 L324.61 351.89 L324.12 351.92 L323.63 351.95 L323.14 351.98 L322.64 352.02 L322.14 352.05 L321.65 352.09 L321.16 352.14 L320.67 352.19 L320.16 352.24 L319.64 352.29 L319.11 352.34 L318.58 352.38 L318.04 352.41 L317.48 352.43 L316.93 352.43 L316.37 352.42 L315.81 352.39 L315.25 352.36 L314.71 352.31 L314.16 352.25 L313.61 352.19 L313.05 352.11 L312.49 352.02 L311.93 351.91 L311.35 351.80 L310.76 351.66 L310.16 351.52 L309.55 351.36 L308.93 351.18 L308.30 350.99 L307.66 350.78 L307.00 350.55 L306.34 350.30 L305.66 350.04 L304.98 349.77 L304.29 349.49 L303.61 349.20 L302.92 348.90 L302.24 348.60 L301.56 348.31 L300.90 348.01 L300.25 347.72 L299.60 347.41 L298.95 347.09 L298.29 346.75 L297.63 346.41 L296.98 346.07 L296.32 345.72 L295.66 345.38 L295.00 345.05 L294.34 344.72 L293.69 344.41 L293.04 344.12 L292.40 343.84 L291.77 343.59 L291.15 343.35 L290.54 343.12 L289.95 342.91 L289.37 342.71 L288.80 342.51 L288.24 342.32 L287.69 342.12 L287.16 341.93 L286.64 341.73 L286.13 341.53 L285.61 341.31 L285.05 341.07 L284.49 340.82 L283.92 340.56 L283.35 340.30 L282.80 340.04 L282.27 339.80 L281.77 339.56 L281.31 339.34 L280.89 339.15 L280.54 338.98 L280.25 338.85 A1.50 1.50 0 0 0 278.95 341.55 Z" fill="#777"/></g>
<path d="M276.10 337.09 L276.06 336.52 L276.00 335.80 L275.92 334.96 L275.84 334.04 L275.75 333.03 L275.66 331.98 L275.58 330.90 L275.52 329.81 L275.47 328.74 L275.45 327.71 L275.46 326.76 L275.50 325.89 L275.57 325.06 L275.65 324.23 L275.76 323.41 L275.89 322.60 L276.03 321.81 L276.19 321.02 L276.37 320.25 L276.56 319.49 L276.77 318.74 L277.00 318.00 L277.24 317.28 L277.50 316.57 L277.77 315.90 L278.06 315.24 L278.38 314.60 L278.71 313.96 L279.06 313.34 L279.42 312.73 L279.80 312.11 L280.20 311.51 L280.60 310.90 L281.02 310.30 L281.45 309.70 L281.87 309.10 L282.29 308.53 L282.72 307.98 L283.16 307.43 L283.62 306.88 L284.09 306.34 L284.57 305.79 L285.07 305.24 L285.58 304.68 L286.10 304.12 L286.63 303.56 L287.16 302.98 L287.71 302.39 L288.25 301.79 L288.79 301.18 L289.33 300.57 L289.86 299.97 L290.39 299.38 L290.91 298.81 L291.44 298.27 L291.95 297.76 L292.47 297.29 L292.98 296.87 L293.47 296.50 L293.98 296.17 L294.51 295.85 L295.08 295.55 L295.64 295.28 L296.21 295.04 L296.76 294.84 L297.31 294.67 L297.83 294.54 L298.34 294.43 L298.82 294.35 L299.27 294.29 L299.69 294.25 L300.06 294.23 L300.39 294.24 L300.72 294.26 L301.06 294.28 L301.43 294.30 L301.83 294.31 L302.25 294.32 L302.70 294.32 L303.18 294.31 L303.68 294.29 L304.22 294.26 L304.78 294.20 L305.34 294.13 L305.85 294.06 L306.33 293.97 L306.79 293.88 L307.24 293.79 L307.68 293.69 L308.11 293.59 L308.52 293.48 L308.93 293.37 L309.33 293.27 L309.72 293.17 L310.11 293.07 L310.52 292.98 L310.96 292.89 L311.40 292.80 L311.85 292.69 L312.29 292.59 L312.74 292.48 L313.20 292.39 L313.67 292.30 L314.15 292.23 L314.66 292.18 L315.18 292.16 L315.72 292.16 L316.27 292.19 L316.82 292.25 L317.40 292.34 L318.02 292.46 L318.66 292.61 L319.33 292.79 L320.02 293.00 L320.72 293.22 L321.43 293.47 L322.15 293.73 L322.87 294.00 L323.59 294.28 L324.31 294.56 L325.00 294.85 L325.70 295.14 L326.39 295.45 L327.08 295.77 L327.77 296.10 L328.46 296.44 L329.15 296.78 L329.83 297.14 L330.51 297.50 L331.18 297.87 L331.85 298.24 L332.51 298.61 L333.17 298.99 L333.83 299.38 L334.49 299.78 L335.14 300.18 L335.78 300.59 L336.41 301.00 L337.03 301.41 L337.64 301.82 L338.24 302.23 L338.83 302.64 L339.39 303.05 L339.94 303.46 L340.47 303.86 L340.98 304.27 L341.49 304.68 L341.98 305.11 L342.47 305.54 L342.96 305.97 L343.45 306.41 L343.94 306.86 L344.44 307.31 L344.94 307.76 L345.46 308.21 L345.98 308.66 L346.51 309.10 L347.07 309.57 L347.66 310.04 L348.25 310.53 L348.84 311.01 L349.42 311.48 L349.98 311.93 L350.51 312.35 L350.99 312.74 L351.42 313.09 L351.79 313.39 L352.09 313.63 A1.80 1.80 0 0 0 354.51 310.97 L354.51 310.97 L354.25 310.70 L353.92 310.36 L353.53 309.96 L353.10 309.51 L352.63 309.03 L352.13 308.51 L351.61 307.97 L351.08 307.43 L350.54 306.88 L350.02 306.35 L349.51 305.83 L349.02 305.34 L348.57 304.88 L348.12 304.42 L347.66 303.95 L347.20 303.48 L346.73 303.00 L346.25 302.51 L345.76 302.02 L345.26 301.53 L344.73 301.03 L344.19 300.54 L343.63 300.04 L343.06 299.54 L342.46 299.06 L341.86 298.58 L341.24 298.11 L340.62 297.64 L339.98 297.18 L339.34 296.72 L338.69 296.26 L338.05 295.80 L337.40 295.35 L336.76 294.90 L336.12 294.44 L335.49 293.99 L334.85 293.53 L334.21 293.07 L333.56 292.61 L332.91 292.14 L332.26 291.68 L331.60 291.21 L330.95 290.75 L330.29 290.29 L329.64 289.82 L328.98 289.36 L328.33 288.89 L327.69 288.44 L327.07 287.98 L326.44 287.52 L325.81 287.04 L325.16 286.56 L324.51 286.08 L323.86 285.59 L323.19 285.10 L322.52 284.62 L321.84 284.15 L321.15 283.69 L320.44 283.24 L319.73 282.81 L319.05 282.40 L318.37 282.01 L317.70 281.62 L317.03 281.25 L316.36 280.89 L315.68 280.55 L314.99 280.23 L314.30 279.93 L313.61 279.66 L312.91 279.41 L312.20 279.20 L311.48 279.02 L310.72 278.86 L309.94 278.73 L309.17 278.63 L308.40 278.55 L307.64 278.50 L306.89 278.48 L306.15 278.48 L305.43 278.51 L304.71 278.56 L304.00 278.64 L303.31 278.74 L302.66 278.87 L302.05 279.01 L301.43 279.17 L300.77 279.36 L300.08 279.58 L299.37 279.83 L298.63 280.12 L297.86 280.45 L297.09 280.81 L296.30 281.23 L295.50 281.69 L294.70 282.21 L293.94 282.77 L293.23 283.36 L292.60 283.97 L292.01 284.62 L291.46 285.28 L290.96 285.96 L290.48 286.65 L290.04 287.35 L289.62 288.05 L289.21 288.74 L288.82 289.44 L288.43 290.13 L288.02 290.83 L287.60 291.57 L287.18 292.33 L286.79 293.09 L286.42 293.84 L286.07 294.59 L285.72 295.33 L285.39 296.05 L285.05 296.77 L284.72 297.46 L284.38 298.14 L284.04 298.78 L283.69 299.41 L283.33 300.02 L282.94 300.62 L282.52 301.23 L282.09 301.83 L281.65 302.43 L281.20 303.04 L280.75 303.65 L280.29 304.27 L279.83 304.91 L279.38 305.56 L278.94 306.22 L278.53 306.90 L278.14 307.56 L277.75 308.22 L277.37 308.89 L276.99 309.56 L276.61 310.24 L276.24 310.94 L275.88 311.65 L275.53 312.37 L275.19 313.11 L274.88 313.86 L274.58 314.64 L274.30 315.43 L274.04 316.22 L273.80 317.02 L273.58 317.84 L273.36 318.66 L273.17 319.50 L272.98 320.35 L272.82 321.22 L272.68 322.09 L272.55 322.98 L272.45 323.88 L272.36 324.78 L272.30 325.71 L272.27 326.70 L272.29 327.77 L272.33 328.87 L272.40 330.00 L272.49 331.13 L272.59 332.24 L272.69 333.32 L272.80 334.33 L272.90 335.26 L272.99 336.09 L273.06 336.77 L273.10 337.31 A1.50 1.50 0 0 0 276.10 337.09 Z" fill="#2343ec" stroke="#0f1fb0" stroke-width="0.7"/>
<path d="M278.95 341.55 L279.23 341.69 L279.57 341.86 L279.97 342.07 L280.43 342.30 L280.92 342.55 L281.45 342.82 L282.01 343.10 L282.58 343.38 L283.16 343.66 L283.74 343.94 L284.31 344.21 L284.87 344.47 L285.42 344.71 L285.98 344.95 L286.54 345.17 L287.09 345.40 L287.65 345.61 L288.21 345.83 L288.77 346.05 L289.32 346.28 L289.88 346.51 L290.44 346.75 L291.00 347.01 L291.56 347.28 L292.13 347.58 L292.71 347.89 L293.31 348.22 L293.92 348.57 L294.54 348.94 L295.17 349.31 L295.82 349.69 L296.46 350.07 L297.12 350.46 L297.78 350.84 L298.44 351.22 L299.10 351.59 L299.76 351.95 L300.42 352.31 L301.09 352.67 L301.76 353.03 L302.43 353.40 L303.11 353.76 L303.78 354.12 L304.46 354.47 L305.12 354.82 L305.78 355.16 L306.43 355.50 L307.07 355.82 L307.68 356.13 L308.28 356.44 L308.88 356.74 L309.46 357.04 L310.05 357.33 L310.63 357.62 L311.21 357.90 L311.80 358.18 L312.39 358.45 L312.98 358.71 L313.59 358.96 L314.19 359.21 L314.80 359.45 L315.40 359.69 L316.02 359.93 L316.63 360.17 L317.26 360.40 L317.89 360.62 L318.53 360.83 L319.18 361.02 L319.83 361.19 L320.50 361.34 L321.18 361.46 L321.86 361.55 L322.53 361.61 L323.20 361.64 L323.87 361.66 L324.54 361.65 L325.22 361.62 L325.90 361.57 L326.58 361.50 L327.26 361.41 L327.95 361.30 L328.63 361.16 L329.31 361.01 L329.99 360.85 L330.67 360.66 L331.35 360.45 L332.02 360.21 L332.70 359.96 L333.38 359.69 L334.05 359.40 L334.71 359.10 L335.36 358.78 L336.00 358.44 L336.63 358.09 L337.24 357.73 L337.83 357.36 L338.38 356.97 L338.91 356.58 L339.41 356.18 L339.89 355.76 L340.34 355.33 L340.78 354.89 L341.20 354.44 L341.61 353.98 L342.00 353.52 L342.39 353.05 L342.77 352.57 L343.16 352.08 L343.57 351.56 L343.97 351.02 L344.37 350.47 L344.76 349.91 L345.15 349.34 L345.52 348.77 L345.89 348.19 L346.25 347.62 L346.61 347.04 L346.95 346.47 L347.28 345.91 L347.61 345.35 L347.92 344.79 L348.24 344.24 L348.55 343.68 L348.86 343.12 L349.16 342.55 L349.46 341.98 L349.75 341.40 L350.03 340.81 L350.31 340.21 L350.58 339.61 L350.83 338.99 L351.08 338.37 L351.31 337.74 L351.53 337.10 L351.75 336.46 L351.96 335.81 L352.16 335.15 L352.36 334.48 L352.54 333.80 L352.71 333.12 L352.87 332.44 L353.02 331.75 L353.15 331.05 L353.27 330.35 L353.37 329.63 L353.46 328.89 L353.53 328.14 L353.59 327.39 L353.64 326.64 L353.67 325.90 L353.69 325.17 L353.71 324.47 L353.72 323.79 L353.72 323.15 L353.71 322.55 L353.70 321.99 L353.68 321.43 L353.64 320.89 L353.58 320.38 L353.51 319.90 L353.43 319.45 L353.35 319.03 L353.27 318.65 L353.20 318.31 L353.13 318.00 L353.06 317.75 L353.02 317.55 L352.98 317.37 A1.70 1.70 0 0 0 349.62 317.83 L349.62 317.83 L349.64 318.06 L349.67 318.33 L349.70 318.61 L349.74 318.91 L349.77 319.23 L349.81 319.57 L349.84 319.93 L349.87 320.31 L349.89 320.71 L349.90 321.12 L349.91 321.55 L349.90 322.01 L349.89 322.53 L349.87 323.11 L349.86 323.73 L349.84 324.37 L349.81 325.03 L349.78 325.71 L349.74 326.40 L349.68 327.08 L349.62 327.76 L349.54 328.42 L349.44 329.05 L349.33 329.65 L349.20 330.24 L349.05 330.84 L348.89 331.43 L348.71 332.03 L348.52 332.62 L348.32 333.21 L348.11 333.80 L347.88 334.38 L347.65 334.95 L347.41 335.52 L347.17 336.09 L346.92 336.63 L346.67 337.17 L346.42 337.69 L346.16 338.20 L345.89 338.71 L345.61 339.21 L345.32 339.71 L345.02 340.21 L344.71 340.70 L344.40 341.19 L344.07 341.68 L343.74 342.16 L343.39 342.65 L343.04 343.14 L342.68 343.64 L342.31 344.13 L341.93 344.62 L341.55 345.10 L341.17 345.57 L340.78 346.02 L340.39 346.45 L340.00 346.86 L339.61 347.25 L339.22 347.60 L338.84 347.92 L338.44 348.22 L338.05 348.50 L337.66 348.76 L337.28 348.98 L336.91 349.18 L336.53 349.36 L336.16 349.53 L335.78 349.68 L335.40 349.82 L335.00 349.96 L334.59 350.10 L334.17 350.24 L333.73 350.38 L333.27 350.51 L332.78 350.64 L332.27 350.76 L331.74 350.88 L331.20 351.00 L330.66 351.10 L330.11 351.21 L329.57 351.30 L329.03 351.39 L328.51 351.48 L328.01 351.55 L327.52 351.62 L327.04 351.68 L326.55 351.73 L326.07 351.78 L325.59 351.82 L325.10 351.85 L324.61 351.89 L324.12 351.92 L323.63 351.95 L323.14 351.98 L322.64 352.02 L322.14 352.05 L321.65 352.09 L321.16 352.14 L320.67 352.19 L320.16 352.24 L319.64 352.29 L319.11 352.34 L318.58 352.38 L318.04 352.41 L317.48 352.43 L316.93 352.43 L316.37 352.42 L315.81 352.39 L315.25 352.36 L314.71 352.31 L314.16 352.25 L313.61 352.19 L313.05 352.11 L312.49 352.02 L311.93 351.91 L311.35 351.80 L310.76 351.66 L310.16 351.52 L309.55 351.36 L308.93 351.18 L308.30 350.99 L307.66 350.78 L307.00 350.55 L306.34 350.30 L305.66 350.04 L304.98 349.77 L304.29 349.49 L303.61 349.20 L302.92 348.90 L302.24 348.60 L301.56 348.31 L300.90 348.01 L300.25 347.72 L299.60 347.41 L298.95 347.09 L298.29 346.75 L297.63 346.41 L296.98 346.07 L296.32 345.72 L295.66 345.38 L295.00 345.05 L294.34 344.72 L293.69 344.41 L293.04 344.12 L292.40 343.84 L291.77 343.59 L291.15 343.35 L290.54 343.12 L289.95 342.91 L289.37 342.71 L288.80 342.51 L288.24 342.32 L287.69 342.12 L287.16 341.93 L286.64 341.73 L286.13 341.53 L285.61 341.31 L285.05 341.07 L284.49 340.82 L283.92 340.56 L283.35 340.30 L282.80 340.04 L282.27 339.80 L281.77 339.56 L281.31 339.34 L280.89 339.15 L280.54 338.98 L280.25 338.85 A1.50 1.50 0 0 0 278.95 341.55 Z" fill="#2343ec" stroke="#0f1fb0" stroke-width="0.7"/>
<path d="M275.80 337.11 L275.76 336.54 L275.70 335.83 L275.62 334.99 L275.53 334.07 L275.44 333.06 L275.36 332.01 L275.27 330.92 L275.21 329.83 L275.16 328.75 L275.13 327.72 L275.14 326.75 L275.18 325.87 L275.25 325.03 L275.33 324.20 L275.44 323.37 L275.57 322.55 L275.71 321.75 L275.87 320.95 L276.05 320.17 L276.24 319.40 L276.45 318.65 L276.68 317.90 L276.92 317.17 L277.18 316.46 L277.45 315.77 L277.74 315.10 L278.06 314.45 L278.39 313.81 L278.74 313.17 L279.10 312.55 L279.48 311.93 L279.88 311.31 L280.28 310.70 L280.69 310.09 L281.12 309.48 L281.54 308.88 L281.95 308.30 L282.38 307.74 L282.83 307.18 L283.28 306.62 L283.75 306.07 L284.24 305.51 L284.73 304.96 L285.23 304.40 L285.74 303.83 L286.26 303.26 L286.78 302.68 L287.31 302.09 L287.83 301.49 L288.35 300.87 L288.87 300.26 L289.38 299.65 L289.89 299.05 L290.39 298.46 L290.90 297.90 L291.40 297.37 L291.90 296.87 L292.40 296.41 L292.89 296.01 L293.38 295.64 L293.91 295.28 L294.45 294.94 L295.00 294.62 L295.55 294.34 L296.09 294.09 L296.62 293.87 L297.14 293.68 L297.65 293.52 L298.14 293.38 L298.60 293.26 L299.05 293.16 L299.45 293.09 L299.82 293.04 L300.20 293.00 L300.59 292.97 L301.00 292.95 L301.43 292.92 L301.89 292.90 L302.37 292.87 L302.87 292.84 L303.39 292.80 L303.94 292.75 L304.51 292.68 L305.07 292.61 L305.60 292.53 L306.10 292.44 L306.58 292.35 L307.06 292.26 L307.53 292.17 L307.98 292.07 L308.43 291.98 L308.88 291.89 L309.31 291.81 L309.75 291.73 L310.17 291.65 L310.62 291.59 L311.08 291.52 L311.55 291.46 L312.02 291.39 L312.49 291.32 L312.97 291.26 L313.45 291.20 L313.94 291.16 L314.44 291.13 L314.96 291.13 L315.50 291.14 L316.05 291.18 L316.61 291.25 L317.18 291.35 L317.78 291.47 L318.40 291.63 L319.05 291.81 L319.72 292.02 L320.40 292.26 L321.10 292.51 L321.80 292.78 L322.51 293.06 L323.23 293.35 L323.94 293.65 L324.64 293.95 L325.34 294.25 L326.02 294.56 L326.71 294.88 L327.40 295.22 L328.09 295.56 L328.77 295.91 L329.46 296.27 L330.14 296.64 L330.81 297.01 L331.48 297.39 L332.15 297.77 L332.81 298.15 L333.47 298.54 L334.13 298.94 L334.78 299.34 L335.43 299.74 L336.07 300.16 L336.70 300.57 L337.33 300.99 L337.94 301.40 L338.54 301.82 L339.13 302.24 L339.70 302.65 L340.26 303.07 L340.79 303.48 L341.30 303.89 L341.81 304.32 L342.31 304.75 L342.80 305.19 L343.29 305.63 L343.78 306.07 L344.27 306.52 L344.76 306.97 L345.26 307.43 L345.77 307.88 L346.28 308.32 L346.81 308.77 L347.37 309.24 L347.94 309.73 L348.53 310.22 L349.12 310.70 L349.69 311.18 L350.24 311.64 L350.77 312.07 L351.25 312.47 L351.67 312.82 L352.04 313.12 L352.33 313.36 L353.18 312.43 L352.90 312.18 L352.55 311.86 L352.14 311.49 L351.67 311.08 L351.17 310.62 L350.64 310.14 L350.09 309.64 L349.52 309.13 L348.96 308.62 L348.40 308.12 L347.86 307.63 L347.35 307.17 L346.86 306.71 L346.37 306.26 L345.89 305.80 L345.41 305.34 L344.93 304.88 L344.44 304.42 L343.95 303.96 L343.45 303.50 L342.95 303.04 L342.43 302.59 L341.90 302.14 L341.34 301.70 L340.78 301.25 L340.19 300.81 L339.59 300.38 L338.98 299.94 L338.36 299.50 L337.73 299.07 L337.09 298.64 L336.45 298.21 L335.80 297.79 L335.15 297.36 L334.50 296.95 L333.85 296.53 L333.20 296.12 L332.54 295.71 L331.88 295.30 L331.22 294.89 L330.55 294.49 L329.87 294.09 L329.20 293.69 L328.52 293.30 L327.85 292.92 L327.17 292.54 L326.50 292.17 L325.83 291.81 L325.16 291.45 L324.48 291.08 L323.79 290.72 L323.11 290.36 L322.43 290.01 L321.75 289.66 L321.07 289.33 L320.40 289.02 L319.74 288.72 L319.09 288.45 L318.45 288.19 L317.83 287.97 L317.22 287.77 L316.62 287.59 L316.03 287.43 L315.45 287.29 L314.88 287.17 L314.31 287.06 L313.75 286.97 L313.20 286.89 L312.64 286.83 L312.08 286.77 L311.52 286.73 L310.95 286.70 L310.39 286.68 L309.82 286.67 L309.26 286.68 L308.69 286.70 L308.13 286.74 L307.56 286.79 L306.99 286.84 L306.42 286.91 L305.85 286.99 L305.28 287.07 L304.71 287.17 L304.13 287.26 L303.55 287.36 L302.96 287.47 L302.37 287.57 L301.78 287.68 L301.20 287.80 L300.62 287.93 L300.04 288.07 L299.48 288.23 L298.92 288.41 L298.37 288.60 L297.83 288.83 L297.31 289.07 L296.79 289.35 L296.27 289.65 L295.75 289.97 L295.24 290.31 L294.74 290.68 L294.23 291.06 L293.74 291.47 L293.24 291.89 L292.75 292.34 L292.26 292.80 L291.78 293.28 L291.30 293.77 L290.83 294.28 L290.37 294.82 L289.91 295.40 L289.47 296.00 L289.02 296.61 L288.58 297.24 L288.14 297.88 L287.70 298.53 L287.25 299.17 L286.81 299.81 L286.36 300.44 L285.90 301.05 L285.44 301.65 L284.97 302.24 L284.49 302.82 L284.01 303.40 L283.53 303.97 L283.06 304.55 L282.58 305.13 L282.12 305.71 L281.66 306.29 L281.22 306.89 L280.78 307.49 L280.37 308.11 L279.96 308.74 L279.55 309.36 L279.15 310.00 L278.75 310.63 L278.37 311.27 L277.99 311.92 L277.63 312.58 L277.28 313.25 L276.94 313.93 L276.63 314.62 L276.33 315.33 L276.06 316.06 L275.80 316.80 L275.56 317.56 L275.33 318.33 L275.12 319.12 L274.93 319.91 L274.75 320.72 L274.59 321.54 L274.44 322.37 L274.32 323.22 L274.21 324.07 L274.12 324.94 L274.06 325.81 L274.03 326.73 L274.03 327.74 L274.06 328.80 L274.12 329.89 L274.19 331.00 L274.28 332.10 L274.37 333.16 L274.47 334.17 L274.56 335.10 L274.64 335.93 L274.71 336.63 L274.75 337.19 Z" fill="#5a78ff" opacity="0.6" filter="url(#hb)"/>
<path d="M279.66 340.06 L279.95 340.20 L280.30 340.37 L280.71 340.57 L281.16 340.79 L281.66 341.04 L282.19 341.29 L282.75 341.56 L283.31 341.83 L283.89 342.10 L284.46 342.36 L285.02 342.62 L285.56 342.85 L286.09 343.08 L286.63 343.29 L287.17 343.50 L287.72 343.70 L288.28 343.91 L288.85 344.11 L289.42 344.32 L289.99 344.54 L290.58 344.77 L291.17 345.01 L291.77 345.27 L292.37 345.54 L292.99 345.84 L293.61 346.15 L294.24 346.48 L294.88 346.82 L295.52 347.17 L296.17 347.53 L296.82 347.89 L297.47 348.25 L298.12 348.60 L298.78 348.95 L299.44 349.29 L300.09 349.62 L300.75 349.94 L301.42 350.27 L302.09 350.60 L302.77 350.92 L303.46 351.25 L304.14 351.56 L304.82 351.87 L305.49 352.18 L306.16 352.47 L306.82 352.75 L307.46 353.02 L308.09 353.27 L308.71 353.51 L309.32 353.73 L309.91 353.95 L310.50 354.16 L311.08 354.35 L311.66 354.54 L312.23 354.71 L312.79 354.88 L313.36 355.04 L313.93 355.19 L314.50 355.33 L315.08 355.46 L315.66 355.58 L316.24 355.70 L316.82 355.80 L317.40 355.90 L317.98 355.99 L318.56 356.07 L319.14 356.14 L319.72 356.19 L320.29 356.24 L320.87 356.28 L321.44 356.31 L322.01 356.33 L322.59 356.33 L323.16 356.33 L323.74 356.32 L324.31 356.30 L324.89 356.27 L325.46 356.23 L326.03 356.17 L326.61 356.11 L327.18 356.04 L327.75 355.95 L328.33 355.85 L328.90 355.74 L329.48 355.61 L330.07 355.47 L330.67 355.31 L331.28 355.15 L331.88 354.97 L332.48 354.78 L333.08 354.58 L333.66 354.37 L334.23 354.15 L334.78 353.92 L335.31 353.69 L335.82 353.44 L336.30 353.20 L336.76 352.94 L337.20 352.68 L337.63 352.41 L338.04 352.14 L338.44 351.85 L338.84 351.55 L339.23 351.23 L339.62 350.90 L340.00 350.55 L340.39 350.18 L340.78 349.79 L341.18 349.38 L341.57 348.94 L341.96 348.49 L342.36 348.01 L342.74 347.52 L343.13 347.01 L343.50 346.49 L343.88 345.97 L344.24 345.44 L344.60 344.91 L344.95 344.39 L345.29 343.87 L345.62 343.35 L345.95 342.83 L346.27 342.31 L346.58 341.79 L346.88 341.26 L347.18 340.73 L347.47 340.20 L347.75 339.65 L348.03 339.11 L348.29 338.55 L348.55 337.99 L348.79 337.41 L349.03 336.83 L349.27 336.23 L349.50 335.63 L349.72 335.02 L349.93 334.40 L350.14 333.78 L350.33 333.15 L350.51 332.52 L350.68 331.88 L350.84 331.25 L350.98 330.61 L351.10 329.96 L351.21 329.31 L351.30 328.63 L351.38 327.93 L351.44 327.22 L351.49 326.51 L351.53 325.80 L351.56 325.10 L351.58 324.41 L351.59 323.76 L351.60 323.13 L351.61 322.54 L351.61 322.00 L351.60 321.50 L351.58 321.02 L351.55 320.56 L351.51 320.12 L351.46 319.71 L351.40 319.33 L351.35 318.97 L351.29 318.64 L351.24 318.34 L351.20 318.07 L351.16 317.83 L351.13 317.62 L349.95 317.78 L349.97 318.01 L350.01 318.27 L350.04 318.55 L350.08 318.85 L350.12 319.17 L350.16 319.52 L350.20 319.88 L350.23 320.27 L350.26 320.67 L350.28 321.10 L350.28 321.54 L350.28 322.01 L350.27 322.54 L350.26 323.12 L350.24 323.73 L350.23 324.38 L350.20 325.05 L350.17 325.73 L350.13 326.42 L350.07 327.12 L350.01 327.80 L349.93 328.47 L349.84 329.11 L349.72 329.72 L349.60 330.32 L349.45 330.93 L349.29 331.53 L349.11 332.14 L348.92 332.74 L348.72 333.34 L348.51 333.93 L348.29 334.52 L348.06 335.10 L347.83 335.68 L347.58 336.25 L347.34 336.81 L347.09 337.35 L346.84 337.88 L346.57 338.40 L346.30 338.92 L346.02 339.43 L345.73 339.94 L345.43 340.44 L345.13 340.94 L344.81 341.44 L344.49 341.93 L344.16 342.43 L343.82 342.92 L343.46 343.42 L343.10 343.92 L342.74 344.42 L342.36 344.92 L341.99 345.41 L341.60 345.89 L341.21 346.35 L340.82 346.80 L340.43 347.23 L340.04 347.62 L339.66 347.99 L339.27 348.34 L338.88 348.66 L338.48 348.96 L338.10 349.23 L337.72 349.48 L337.34 349.71 L336.96 349.91 L336.58 350.11 L336.19 350.29 L335.80 350.46 L335.39 350.63 L334.97 350.79 L334.54 350.95 L334.08 351.11 L333.60 351.27 L333.10 351.42 L332.58 351.56 L332.04 351.70 L331.49 351.84 L330.93 351.96 L330.37 352.08 L329.82 352.20 L329.27 352.30 L328.73 352.40 L328.21 352.48 L327.70 352.56 L327.20 352.63 L326.69 352.69 L326.19 352.74 L325.69 352.79 L325.18 352.83 L324.67 352.86 L324.17 352.89 L323.66 352.92 L323.14 352.95 L322.63 352.98 L322.11 353.00 L321.61 353.03 L321.10 353.06 L320.58 353.09 L320.06 353.12 L319.53 353.15 L318.99 353.17 L318.45 353.18 L317.89 353.18 L317.34 353.18 L316.78 353.16 L316.21 353.12 L315.65 353.08 L315.09 353.02 L314.53 352.95 L313.98 352.87 L313.43 352.78 L312.87 352.69 L312.31 352.58 L311.74 352.46 L311.16 352.32 L310.57 352.17 L309.98 352.01 L309.37 351.83 L308.75 351.64 L308.12 351.44 L307.47 351.22 L306.82 350.97 L306.15 350.72 L305.47 350.45 L304.79 350.17 L304.11 349.88 L303.42 349.58 L302.74 349.28 L302.05 348.97 L301.38 348.67 L300.72 348.37 L300.07 348.07 L299.42 347.75 L298.77 347.42 L298.11 347.08 L297.45 346.74 L296.80 346.39 L296.14 346.04 L295.48 345.70 L294.83 345.36 L294.18 345.04 L293.54 344.73 L292.89 344.43 L292.26 344.16 L291.64 343.90 L291.02 343.66 L290.42 343.44 L289.83 343.22 L289.25 343.02 L288.68 342.82 L288.12 342.62 L287.58 342.43 L287.04 342.23 L286.52 342.03 L286.01 341.82 L285.48 341.60 L284.92 341.36 L284.35 341.10 L283.78 340.84 L283.22 340.58 L282.66 340.32 L282.13 340.07 L281.63 339.83 L281.17 339.62 L280.76 339.42 L280.41 339.25 L280.12 339.12 Z" fill="#5a78ff" opacity="0.6" filter="url(#hb)"/>
<g transform="translate(301.5,287) rotate(-20)"><ellipse rx="6.4" ry="4.2" fill="url(#nucb)" stroke="#22357a" stroke-width="0.9"/><ellipse cx="-0.32" cy="-2.10" rx="1.92" ry="0.84" fill="#d8e6ff" opacity="0.8"/></g>
<g transform="translate(328.1,355.9) rotate(-10)"><ellipse rx="6" ry="3.3" fill="url(#nucb)" stroke="#22357a" stroke-width="0.9"/><ellipse cx="-0.30" cy="-1.65" rx="1.80" ry="0.66" fill="#d8e6ff" opacity="0.8"/></g>


<g filter="url(#csh)" opacity="0.5" transform="translate(2,3)"><path d="M128.50 479.30 C125.73 480.88 117.28 485.35 111.90 488.75 C106.53 492.15 100.42 496.06 96.25 499.70 C92.08 503.34 89.78 506.43 86.90 510.60 C84.03 514.77 81.08 520.01 79.00 524.70 C76.92 529.39 75.57 533.80 74.40 538.75 C73.23 543.70 72.40 551.79 72.00 554.40 C72.92 553.33 75.02 550.87 77.50 548.00 C79.98 545.13 83.52 540.57 86.90 537.20 C90.28 533.83 94.87 530.83 97.80 527.80 C100.73 524.77 102.38 522.05 104.50 519.00 C106.62 515.95 108.50 512.75 110.50 509.50 C112.50 506.25 114.50 502.92 116.50 499.50 C118.50 496.08 120.50 492.37 122.50 489.00 C124.50 485.63 127.50 480.92 128.50 479.30 Z" fill="#777"/><path d="M175.80 473.20 C172.75 474.05 163.26 476.78 157.50 478.30 C151.74 479.82 146.33 480.27 141.25 482.30 C136.17 484.33 131.11 488.12 127.00 490.50 C122.89 492.88 120.17 493.52 116.60 496.60 C113.03 499.68 108.73 503.53 105.60 509.00 C102.47 514.47 99.10 526.00 97.80 529.40 C99.28 529.00 102.83 528.75 106.70 527.00 C110.57 525.25 115.92 521.94 121.00 518.90 C126.08 515.86 132.82 511.80 137.20 508.75 C141.58 505.70 143.23 504.33 147.30 500.60 C151.37 496.88 156.85 490.97 161.60 486.40 C166.35 481.83 173.43 475.40 175.80 473.20 Z" fill="#777"/><path d="M175.80 497.60 C173.43 498.10 166.68 499.08 161.60 500.60 C156.52 502.12 150.40 504.33 145.30 506.70 C140.20 509.07 135.78 512.07 131.00 514.80 C126.22 517.53 120.57 520.15 116.60 523.10 C112.63 526.05 110.59 528.58 107.20 532.50 C103.81 536.42 99.50 541.78 96.25 546.60 C93.00 551.42 89.12 558.93 87.70 561.40 C90.42 559.97 98.45 556.16 104.00 552.80 C109.55 549.44 115.47 544.88 121.00 541.25 C126.53 537.62 132.13 534.38 137.20 531.00 C142.27 527.62 146.67 524.71 151.40 521.00 C156.13 517.29 161.53 512.65 165.60 508.75 C169.67 504.85 174.10 499.46 175.80 497.60 Z" fill="#777"/></g>
<path d="M175.80 473.20 C172.75 474.05 163.26 476.78 157.50 478.30 C151.74 479.82 146.33 480.27 141.25 482.30 C136.17 484.33 131.11 488.12 127.00 490.50 C122.89 492.88 120.17 493.52 116.60 496.60 C113.03 499.68 108.73 503.53 105.60 509.00 C102.47 514.47 99.10 526.00 97.80 529.40 C99.28 529.00 102.83 528.75 106.70 527.00 C110.57 525.25 115.92 521.94 121.00 518.90 C126.08 515.86 132.82 511.80 137.20 508.75 C141.58 505.70 143.23 504.33 147.30 500.60 C151.37 496.88 156.85 490.97 161.60 486.40 C166.35 481.83 173.43 475.40 175.80 473.20 Z" fill="url(#greeng)" stroke="#0c6e0c" stroke-width="0.8"/>
<path d="M128.50 479.30 C125.73 480.88 117.28 485.35 111.90 488.75 C106.53 492.15 100.42 496.06 96.25 499.70 C92.08 503.34 89.78 506.43 86.90 510.60 C84.03 514.77 81.08 520.01 79.00 524.70 C76.92 529.39 75.57 533.80 74.40 538.75 C73.23 543.70 72.40 551.79 72.00 554.40 C72.92 553.33 75.02 550.87 77.50 548.00 C79.98 545.13 83.52 540.57 86.90 537.20 C90.28 533.83 94.87 530.83 97.80 527.80 C100.73 524.77 102.38 522.05 104.50 519.00 C106.62 515.95 108.50 512.75 110.50 509.50 C112.50 506.25 114.50 502.92 116.50 499.50 C118.50 496.08 120.50 492.37 122.50 489.00 C124.50 485.63 127.50 480.92 128.50 479.30 Z" fill="url(#greeng)" stroke="#0c6e0c" stroke-width="0.8"/>
<path d="M128.5 479.3 C125 486 120 494.5 116.5 499.5 C113 505 108 513 104.5 519 C101 524 99 526 97.8 527.8" fill="none" stroke="#0a6a0a" stroke-width="1.3" opacity="0.7" filter="url(#hb)"/>
<path d="M175.80 497.60 C173.43 498.10 166.68 499.08 161.60 500.60 C156.52 502.12 150.40 504.33 145.30 506.70 C140.20 509.07 135.78 512.07 131.00 514.80 C126.22 517.53 120.57 520.15 116.60 523.10 C112.63 526.05 110.59 528.58 107.20 532.50 C103.81 536.42 99.50 541.78 96.25 546.60 C93.00 551.42 89.12 558.93 87.70 561.40 C90.42 559.97 98.45 556.16 104.00 552.80 C109.55 549.44 115.47 544.88 121.00 541.25 C126.53 537.62 132.13 534.38 137.20 531.00 C142.27 527.62 146.67 524.71 151.40 521.00 C156.13 517.29 161.53 512.65 165.60 508.75 C169.67 504.85 174.10 499.46 175.80 497.60 Z" fill="url(#greeng)" stroke="#0c6e0c" stroke-width="0.8"/>
<g transform="translate(94.7,516.9) rotate(22)"><ellipse rx="4.3" ry="5.7" fill="url(#nucg)" stroke="#22357a" stroke-width="0.9"/><ellipse cx="-0.21" cy="-2.85" rx="1.29" ry="1.14" fill="#d8e6ff" opacity="0.8"/></g>
<g transform="translate(131.1,499.6) rotate(22)"><ellipse rx="4.7" ry="5.7" fill="url(#nucg)" stroke="#22357a" stroke-width="0.9"/><ellipse cx="-0.24" cy="-2.85" rx="1.41" ry="1.14" fill="#d8e6ff" opacity="0.8"/></g>
<g transform="translate(124.6,528) rotate(25)"><ellipse rx="4.9" ry="5.9" fill="url(#nucg)" stroke="#22357a" stroke-width="0.9"/><ellipse cx="-0.25" cy="-2.95" rx="1.47" ry="1.18" fill="#d8e6ff" opacity="0.8"/></g>


<g filter="url(#ash)" opacity="0.5" transform="translate(3,4)">
<ellipse cx="560.5" cy="532.5" rx="25.5" ry="27" fill="#666"/><path d="M548.30 455.40 C553.80 455.32 560.38 455.90 565.00 458.00 C569.62 460.10 573.58 464.17 576.00 468.00 C578.42 471.83 579.33 476.33 579.50 481.00 C579.67 485.67 578.92 491.42 577.00 496.00 C575.08 500.58 572.48 505.38 568.00 508.50 C563.52 511.62 555.93 514.28 550.10 514.70 C544.27 515.12 537.77 513.45 533.00 511.00 C528.23 508.55 523.90 504.67 521.50 500.00 C519.10 495.33 518.52 488.50 518.60 483.00 C518.68 477.50 519.77 471.08 522.00 467.00 C524.23 462.92 527.62 460.43 532.00 458.50 C536.38 456.57 542.80 455.48 548.30 455.40 Z" fill="#666"/><ellipse cx="502" cy="486" rx="17.5" ry="16.5" fill="#666"/><path d="M496.60 491.00 C501.80 490.38 506.95 491.48 511.40 493.20 C515.85 494.92 519.58 497.72 523.30 501.30 C527.02 504.88 530.97 509.50 533.70 514.70 C536.43 519.90 538.95 526.80 539.70 532.50 C540.45 538.20 539.98 543.83 538.20 548.90 C536.42 553.97 532.97 558.90 529.00 562.90 C525.03 566.90 519.55 570.88 514.40 572.90 C509.25 574.92 503.55 575.23 498.10 575.00 C492.65 574.77 486.65 574.00 481.70 571.50 C476.75 569.00 471.62 564.52 468.40 560.00 C465.18 555.48 463.15 549.97 462.40 544.40 C461.65 538.83 462.65 532.53 463.90 526.60 C465.15 520.67 467.18 513.75 469.90 508.80 C472.62 503.85 475.75 499.87 480.20 496.90 C484.65 493.93 491.40 491.62 496.60 491.00 Z" fill="#666"/></g>
<path d="M535.0 532.5 a25.5 27 0 1 0 51.0 0 a25.5 27 0 1 0 -51.0 0 Z" fill="url(#yelg)" stroke="#8f8f0a" stroke-width="0.9"/><path d="M535.0 532.5 a25.5 27 0 1 0 51.0 0 a25.5 27 0 1 0 -51.0 0 Z" fill="url(#yov)"/><ellipse cx="561" cy="534" rx="21" ry="23" fill="url(#grayg)" stroke="#a8a830" stroke-width="0.8"/>
<path d="M484.5 486 a17.5 16.5 0 1 0 35.0 0 a17.5 16.5 0 1 0 -35.0 0 Z" fill="url(#yelg)" stroke="#8f8f0a" stroke-width="0.9"/><path d="M484.5 486 a17.5 16.5 0 1 0 35.0 0 a17.5 16.5 0 1 0 -35.0 0 Z" fill="url(#yov)"/><ellipse cx="502.5" cy="488" rx="15" ry="13" fill="url(#grayg)" stroke="#a8a830" stroke-width="0.8"/>
<path d="M494.78 474.62 L494.97 474.54 L495.22 474.43 L495.51 474.30 L495.83 474.17 L496.17 474.02 L496.53 473.87 L496.90 473.72 L497.26 473.58 L497.61 473.46 L497.94 473.35 L498.24 473.26 L498.49 473.20 L498.74 473.15 L498.99 473.10 L499.24 473.06 L499.48 473.03 L499.73 473.00 L499.98 472.97 L500.23 472.95 L500.47 472.93 L500.73 472.92 L500.98 472.91 L501.24 472.90 L501.50 472.90 L501.76 472.90 L502.02 472.91 L502.27 472.92 L502.53 472.94 L502.79 472.96 L503.05 472.98 L503.30 473.01 L503.55 473.04 L503.80 473.08 L504.04 473.12 L504.28 473.16 L504.51 473.20 L504.73 473.25 L504.98 473.32 L505.26 473.40 L505.57 473.51 L505.88 473.63 L506.20 473.75 L506.50 473.88 L506.80 474.01 L507.07 474.13 L507.32 474.24 L507.54 474.34 L507.71 474.41 L508.29 473.59 L508.18 473.46 L508.04 473.29 L507.87 473.09 L507.68 472.85 L507.47 472.59 L507.24 472.32 L506.99 472.04 L506.73 471.76 L506.45 471.49 L506.15 471.24 L505.83 471.00 L505.49 470.80 L505.17 470.63 L504.85 470.49 L504.52 470.37 L504.19 470.26 L503.85 470.17 L503.51 470.09 L503.18 470.03 L502.84 469.98 L502.50 469.94 L502.16 469.92 L501.83 469.90 L501.50 469.90 L501.18 469.90 L500.85 469.92 L500.52 469.94 L500.19 469.97 L499.86 470.02 L499.52 470.08 L499.19 470.16 L498.85 470.25 L498.51 470.36 L498.18 470.48 L497.84 470.63 L497.51 470.80 L497.16 471.01 L496.81 471.25 L496.47 471.52 L496.15 471.81 L495.83 472.10 L495.53 472.40 L495.25 472.70 L494.99 472.97 L494.75 473.23 L494.54 473.46 L494.37 473.64 L494.22 473.78 Z" fill="#2b4b6e" stroke="#1d3552" stroke-width="0.5"/><path d="M494.61 474.36 L494.79 474.26 L495.01 474.13 L495.27 473.97 L495.57 473.80 L495.89 473.61 L496.22 473.42 L496.57 473.23 L496.92 473.04 L497.26 472.86 L497.59 472.70 L497.91 472.57 L498.19 472.46 L498.46 472.38 L498.74 472.30 L499.01 472.23 L499.29 472.17 L499.56 472.12 L499.84 472.08 L500.11 472.05 L500.39 472.02 L500.66 472.00 L500.94 471.99 L501.22 471.98 L501.50 471.98 L501.78 471.98 L502.06 471.99 L502.34 472.01 L502.63 472.03 L502.91 472.06 L503.19 472.09 L503.47 472.14 L503.75 472.19 L504.02 472.24 L504.29 472.31 L504.55 472.38 L504.81 472.46 L505.07 472.56 L505.34 472.68 L505.63 472.82 L505.92 472.97 L506.22 473.14 L506.52 473.31 L506.80 473.49 L507.07 473.65 L507.32 473.81 L507.54 473.95 L507.73 474.07 L507.89 474.16 L508.09 473.87 L507.96 473.76 L507.79 473.62 L507.60 473.44 L507.38 473.25 L507.14 473.03 L506.88 472.81 L506.61 472.59 L506.33 472.36 L506.04 472.15 L505.75 471.95 L505.45 471.77 L505.16 471.62 L504.87 471.50 L504.57 471.39 L504.27 471.30 L503.97 471.21 L503.66 471.14 L503.35 471.08 L503.04 471.03 L502.73 470.99 L502.42 470.96 L502.11 470.94 L501.80 470.93 L501.50 470.93 L501.20 470.93 L500.90 470.94 L500.59 470.96 L500.29 470.99 L499.98 471.02 L499.68 471.07 L499.37 471.13 L499.07 471.20 L498.76 471.28 L498.46 471.38 L498.15 471.49 L497.84 471.62 L497.53 471.78 L497.20 471.97 L496.86 472.18 L496.53 472.42 L496.20 472.66 L495.87 472.91 L495.57 473.15 L495.28 473.38 L495.01 473.60 L494.77 473.79 L494.57 473.95 L494.41 474.07 Z" fill="#6f9cc4" opacity="0.9"/>
<path d="M548.30 455.40 C553.80 455.32 560.38 455.90 565.00 458.00 C569.62 460.10 573.58 464.17 576.00 468.00 C578.42 471.83 579.33 476.33 579.50 481.00 C579.67 485.67 578.92 491.42 577.00 496.00 C575.08 500.58 572.48 505.38 568.00 508.50 C563.52 511.62 555.93 514.28 550.10 514.70 C544.27 515.12 537.77 513.45 533.00 511.00 C528.23 508.55 523.90 504.67 521.50 500.00 C519.10 495.33 518.52 488.50 518.60 483.00 C518.68 477.50 519.77 471.08 522.00 467.00 C524.23 462.92 527.62 460.43 532.00 458.50 C536.38 456.57 542.80 455.48 548.30 455.40 Z" fill="url(#yelg)" stroke="#8f8f0a" stroke-width="0.9"/><path d="M548.30 455.40 C553.80 455.32 560.38 455.90 565.00 458.00 C569.62 460.10 573.58 464.17 576.00 468.00 C578.42 471.83 579.33 476.33 579.50 481.00 C579.67 485.67 578.92 491.42 577.00 496.00 C575.08 500.58 572.48 505.38 568.00 508.50 C563.52 511.62 555.93 514.28 550.10 514.70 C544.27 515.12 537.77 513.45 533.00 511.00 C528.23 508.55 523.90 504.67 521.50 500.00 C519.10 495.33 518.52 488.50 518.60 483.00 C518.68 477.50 519.77 471.08 522.00 467.00 C524.23 462.92 527.62 460.43 532.00 458.50 C536.38 456.57 542.80 455.48 548.30 455.40 Z" fill="url(#yov)"/>
<ellipse cx="549.5" cy="488" rx="24.7" ry="23.5" fill="url(#grayg)" stroke="#a8a830" stroke-width="0.8"/>
<path d="M523.40 475.55 L523.48 475.25 L523.58 474.86 L523.70 474.42 L523.82 473.93 L523.96 473.40 L524.11 472.86 L524.27 472.31 L524.45 471.78 L524.63 471.28 L524.81 470.83 L525.00 470.45 L525.18 470.15 L525.37 469.85 L525.58 469.54 L525.81 469.24 L526.04 468.94 L526.29 468.64 L526.55 468.34 L526.82 468.04 L527.10 467.75 L527.40 467.46 L527.70 467.17 L528.02 466.89 L528.34 466.62 L528.67 466.35 L529.02 466.09 L529.38 465.82 L529.76 465.56 L530.15 465.31 L530.55 465.06 L530.95 464.82 L531.37 464.58 L531.78 464.35 L532.20 464.13 L532.62 463.92 L533.03 463.72 L533.44 463.53 L533.91 463.34 L534.44 463.14 L535.01 462.95 L535.60 462.77 L536.19 462.59 L536.78 462.42 L537.34 462.27 L537.86 462.13 L538.33 462.00 L538.74 461.89 L539.06 461.80 L538.94 460.60 L538.63 460.57 L538.23 460.52 L537.76 460.46 L537.22 460.38 L536.62 460.31 L535.99 460.24 L535.33 460.17 L534.66 460.13 L533.97 460.11 L533.29 460.12 L532.62 460.18 L531.97 460.28 L531.38 460.42 L530.80 460.58 L530.23 460.77 L529.67 460.98 L529.12 461.22 L528.58 461.48 L528.05 461.75 L527.54 462.05 L527.04 462.36 L526.56 462.69 L526.10 463.03 L525.66 463.38 L525.24 463.74 L524.84 464.12 L524.44 464.51 L524.06 464.92 L523.70 465.34 L523.35 465.79 L523.03 466.25 L522.73 466.73 L522.46 467.23 L522.21 467.75 L522.00 468.28 L521.82 468.85 L521.68 469.48 L521.61 470.14 L521.60 470.79 L521.62 471.44 L521.68 472.08 L521.75 472.71 L521.84 473.30 L521.93 473.85 L522.02 474.36 L522.10 474.80 L522.17 475.16 L522.20 475.45 Z" fill="#2b4b6e" stroke="#1d3552" stroke-width="0.5"/><path d="M523.03 475.52 L523.08 475.22 L523.13 474.84 L523.18 474.40 L523.24 473.90 L523.31 473.37 L523.39 472.81 L523.47 472.24 L523.58 471.68 L523.70 471.13 L523.83 470.62 L523.98 470.15 L524.15 469.75 L524.34 469.37 L524.55 468.99 L524.78 468.62 L525.02 468.26 L525.29 467.90 L525.56 467.55 L525.86 467.21 L526.17 466.88 L526.49 466.55 L526.82 466.23 L527.16 465.92 L527.52 465.62 L527.88 465.33 L528.26 465.04 L528.66 464.76 L529.08 464.48 L529.50 464.22 L529.94 463.96 L530.39 463.71 L530.84 463.47 L531.31 463.25 L531.77 463.04 L532.24 462.84 L532.70 462.66 L533.19 462.50 L533.72 462.35 L534.30 462.21 L534.90 462.08 L535.52 461.97 L536.13 461.87 L536.73 461.77 L537.30 461.69 L537.83 461.61 L538.30 461.55 L538.70 461.49 L539.02 461.43 L538.98 461.01 L538.66 461.02 L538.27 461.03 L537.79 461.03 L537.26 461.03 L536.68 461.03 L536.06 461.04 L535.43 461.06 L534.78 461.10 L534.13 461.15 L533.50 461.22 L532.90 461.33 L532.33 461.46 L531.80 461.62 L531.28 461.80 L530.76 462.00 L530.25 462.21 L529.75 462.45 L529.25 462.70 L528.77 462.97 L528.30 463.25 L527.84 463.55 L527.40 463.85 L526.98 464.17 L526.58 464.49 L526.19 464.82 L525.82 465.16 L525.45 465.52 L525.10 465.89 L524.77 466.27 L524.45 466.66 L524.15 467.07 L523.86 467.49 L523.60 467.92 L523.37 468.36 L523.16 468.82 L522.97 469.30 L522.82 469.81 L522.71 470.37 L522.63 470.96 L522.59 471.56 L522.57 472.16 L522.56 472.76 L522.57 473.33 L522.58 473.88 L522.60 474.38 L522.61 474.82 L522.62 475.19 L522.61 475.48 Z" fill="#6f9cc4" opacity="0.9"/>
<path d="M496.60 491.00 C501.80 490.38 506.95 491.48 511.40 493.20 C515.85 494.92 519.58 497.72 523.30 501.30 C527.02 504.88 530.97 509.50 533.70 514.70 C536.43 519.90 538.95 526.80 539.70 532.50 C540.45 538.20 539.98 543.83 538.20 548.90 C536.42 553.97 532.97 558.90 529.00 562.90 C525.03 566.90 519.55 570.88 514.40 572.90 C509.25 574.92 503.55 575.23 498.10 575.00 C492.65 574.77 486.65 574.00 481.70 571.50 C476.75 569.00 471.62 564.52 468.40 560.00 C465.18 555.48 463.15 549.97 462.40 544.40 C461.65 538.83 462.65 532.53 463.90 526.60 C465.15 520.67 467.18 513.75 469.90 508.80 C472.62 503.85 475.75 499.87 480.20 496.90 C484.65 493.93 491.40 491.62 496.60 491.00 Z" fill="url(#yelg)" stroke="#8f8f0a" stroke-width="0.9"/><path d="M496.60 491.00 C501.80 490.38 506.95 491.48 511.40 493.20 C515.85 494.92 519.58 497.72 523.30 501.30 C527.02 504.88 530.97 509.50 533.70 514.70 C536.43 519.90 538.95 526.80 539.70 532.50 C540.45 538.20 539.98 543.83 538.20 548.90 C536.42 553.97 532.97 558.90 529.00 562.90 C525.03 566.90 519.55 570.88 514.40 572.90 C509.25 574.92 503.55 575.23 498.10 575.00 C492.65 574.77 486.65 574.00 481.70 571.50 C476.75 569.00 471.62 564.52 468.40 560.00 C465.18 555.48 463.15 549.97 462.40 544.40 C461.65 538.83 462.65 532.53 463.90 526.60 C465.15 520.67 467.18 513.75 469.90 508.80 C472.62 503.85 475.75 499.87 480.20 496.90 C484.65 493.93 491.40 491.62 496.60 491.00 Z" fill="url(#yov)"/>
<ellipse cx="500.3" cy="537.4" rx="34.2" ry="31.6" fill="url(#grayg)" stroke="#a8a830" stroke-width="0.8"/>
<path d="M483.89 503.45 L484.21 503.28 L484.60 503.05 L485.04 502.79 L485.53 502.51 L486.05 502.21 L486.61 501.90 L487.18 501.59 L487.77 501.29 L488.35 501.01 L488.92 500.76 L489.46 500.55 L489.98 500.36 L490.54 500.16 L491.17 499.95 L491.82 499.73 L492.49 499.51 L493.18 499.30 L493.88 499.09 L494.58 498.90 L495.26 498.73 L495.93 498.58 L496.57 498.45 L497.18 498.35 L497.74 498.29 L498.29 498.25 L498.84 498.23 L499.39 498.23 L499.94 498.25 L500.49 498.28 L501.04 498.34 L501.58 498.40 L502.11 498.48 L502.64 498.58 L503.15 498.68 L503.66 498.80 L504.13 498.91 L504.57 499.03 L505.05 499.19 L505.59 499.42 L506.16 499.68 L506.74 499.98 L507.32 500.30 L507.89 500.63 L508.43 500.95 L508.93 501.25 L509.39 501.53 L509.78 501.77 L510.10 501.95 L510.90 501.05 L510.70 500.77 L510.46 500.41 L510.19 499.97 L509.87 499.47 L509.51 498.93 L509.12 498.35 L508.68 497.76 L508.21 497.16 L507.70 496.58 L507.14 496.03 L506.52 495.52 L505.87 495.09 L505.24 494.75 L504.60 494.44 L503.94 494.17 L503.26 493.94 L502.56 493.73 L501.84 493.56 L501.10 493.43 L500.35 493.33 L499.59 493.27 L498.82 493.24 L498.05 493.26 L497.26 493.31 L496.46 493.41 L495.64 493.56 L494.82 493.74 L493.99 493.96 L493.18 494.21 L492.37 494.50 L491.58 494.80 L490.80 495.14 L490.06 495.49 L489.34 495.85 L488.67 496.24 L488.02 496.64 L487.38 497.11 L486.77 497.63 L486.22 498.19 L485.71 498.77 L485.25 499.36 L484.83 499.94 L484.45 500.50 L484.10 501.02 L483.80 501.50 L483.53 501.93 L483.30 502.28 L483.11 502.55 Z" fill="#2b4b6e" stroke="#1d3552" stroke-width="0.5"/><path d="M483.65 503.17 L483.93 502.97 L484.27 502.71 L484.66 502.40 L485.09 502.05 L485.56 501.68 L486.06 501.30 L486.59 500.91 L487.14 500.52 L487.70 500.15 L488.26 499.80 L488.82 499.49 L489.38 499.22 L489.97 498.95 L490.61 498.69 L491.28 498.42 L491.97 498.16 L492.69 497.91 L493.42 497.68 L494.15 497.46 L494.87 497.26 L495.59 497.09 L496.29 496.95 L496.96 496.83 L497.59 496.76 L498.21 496.71 L498.83 496.70 L499.45 496.70 L500.07 496.74 L500.68 496.79 L501.28 496.87 L501.88 496.97 L502.46 497.09 L503.04 497.22 L503.60 497.38 L504.15 497.55 L504.66 497.74 L505.17 497.95 L505.69 498.22 L506.24 498.54 L506.79 498.91 L507.34 499.30 L507.87 499.70 L508.39 500.10 L508.87 500.50 L509.32 500.86 L509.72 501.19 L510.06 501.46 L510.35 501.67 L510.62 501.36 L510.38 501.12 L510.09 500.80 L509.76 500.41 L509.37 499.98 L508.95 499.51 L508.50 499.02 L508.02 498.52 L507.51 498.03 L506.98 497.55 L506.42 497.11 L505.85 496.72 L505.28 496.40 L504.70 496.13 L504.11 495.90 L503.49 495.68 L502.87 495.50 L502.22 495.33 L501.56 495.20 L500.89 495.09 L500.21 495.01 L499.52 494.97 L498.83 494.95 L498.13 494.97 L497.42 495.02 L496.70 495.10 L495.96 495.23 L495.20 495.40 L494.43 495.59 L493.66 495.82 L492.89 496.07 L492.13 496.34 L491.38 496.63 L490.66 496.94 L489.97 497.26 L489.31 497.58 L488.69 497.91 L488.09 498.28 L487.51 498.71 L486.95 499.16 L486.42 499.64 L485.91 500.12 L485.44 500.61 L485.00 501.08 L484.59 501.53 L484.22 501.95 L483.90 502.31 L483.61 502.62 L483.38 502.86 Z" fill="#6f9cc4" opacity="0.9"/>

<!-- labels -->
<g text-anchor="middle">
<text class="b" x="126.5" y="244.5">Mouse heart in</text>
<text class="b" x="126.5" y="260.5">postnatal development</text>
<text class="b" x="128" y="276.5">and adult homeostasis</text>
</g>
<text class="b" x="447.2" y="210.6">Mesenchymal cells</text>
<text class="r" x="447.4" y="226.5">PDGFRa<tspan class="s" dx="-0.4" dy="-4">+</tspan><tspan dx="-0.3" dy="4">/PDGFRb</tspan><tspan class="s" dx="-0.4" dy="-4">+</tspan></text>
<text class="r" x="446.9" y="242.5">/PDGFRa<tspan class="s" dx="-0.4" dy="-4">+</tspan><tspan dx="-0.3" dy="4">PDGFRb</tspan><tspan class="s" dx="-0.4" dy="-4">+</tspan></text>

<g text-anchor="middle">
<text class="b" x="316.3" y="382.8">Vascular pericytes</text>
<text class="r" x="316.1" y="398.7">NG2<tspan class="s" dy="-4">+</tspan></text>
<text class="b" x="117.2" y="593.9">Smooth muscle cells</text>
<text class="r" x="117.2" y="611.2">SM22<tspan class="s" dy="-4">+</tspan><tspan dy="4">/Myh11</tspan><tspan class="s" dy="-4">+</tspan></text>
<text class="b" x="527" y="594.3">Cardiac adipocytes</text>
<text class="r" x="527" y="610.7">PLIN<tspan class="s" dy="-4">+</tspan></text>
</g>

<!-- arrows -->
<g fill="#fff" stroke="#000" stroke-width="1.65" stroke-linejoin="miter">
<path d="M509.3 309.6 H521.7 V364.5 H528.6 L515.4 394.4 L501.9 364.5 H509.3 Z"/>
<path d="M275.7 523.6 H330.6 V516.8 L361 530.5 L330.6 544.3 V537.4 H275.7 Z"/>
<path d="M394.4 401.3 L433.8 440 L438.1 435.6 L450 466.3 L418.8 455 L423.8 450 L384.8 410.6 Z"/>
</g>
<g stroke="#e6060e" stroke-width="3.4" stroke-linecap="butt">
<path d="M411 405 L414.4 453.1 M388.5 431 L436.9 427.1"/>
<path d="M291.7 515.3 L327.8 547.2 M325.9 513 L294.1 549.5"/>
</g>

</svg></div>
</body></html>
